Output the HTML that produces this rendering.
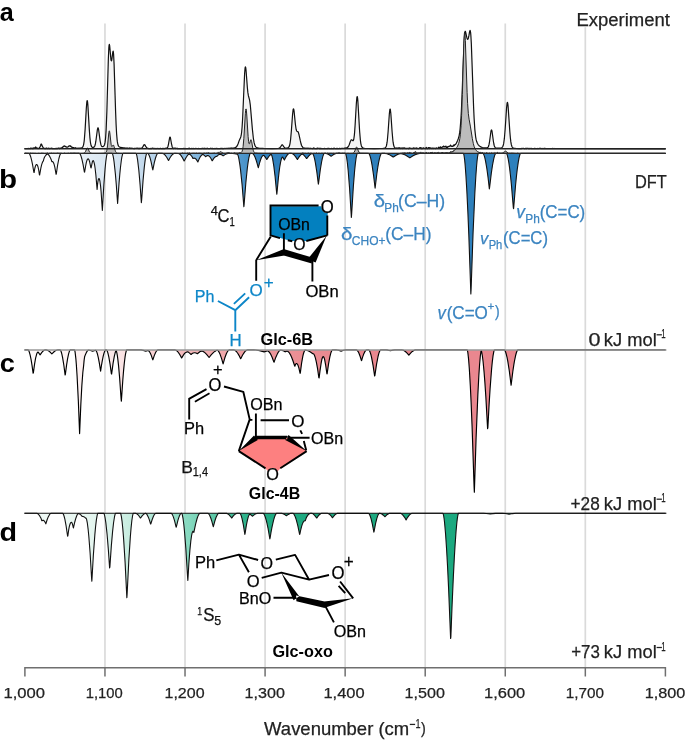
<!DOCTYPE html>
<html><head><meta charset="utf-8"><title>IR spectra</title>
<style>html,body{margin:0;padding:0;background:#fff;}body{width:685px;height:740px;overflow:hidden;font-family:"Liberation Sans",sans-serif;}svg{display:block;will-change:transform;}</style>
</head><body>
<svg width="685" height="740" viewBox="0 0 685 740" font-family='"Liberation Sans", sans-serif'><defs><linearGradient id="gb" gradientUnits="userSpaceOnUse" x1="0" y1="0" x2="685" y2="0"><stop offset="0.0350" stop-color="#fbfcfe"/><stop offset="0.0876" stop-color="#f2f7fb"/><stop offset="0.1460" stop-color="#dde9f3"/><stop offset="0.2058" stop-color="#c6dbed"/><stop offset="0.2701" stop-color="#8dbde0"/><stop offset="0.3212" stop-color="#6ea9d6"/><stop offset="0.3562" stop-color="#4c95cb"/><stop offset="0.3825" stop-color="#2f80bd"/><stop offset="1.0000" stop-color="#2d80bb"/></linearGradient><linearGradient id="gp" gradientUnits="userSpaceOnUse" x1="0" y1="0" x2="685" y2="0"><stop offset="0.0350" stop-color="#fefafa"/><stop offset="0.1168" stop-color="#fcf0f0"/><stop offset="0.1752" stop-color="#fae4e5"/><stop offset="0.2190" stop-color="#f7d3d4"/><stop offset="0.2628" stop-color="#f3bcbe"/><stop offset="0.3504" stop-color="#ee9fa2"/><stop offset="0.4380" stop-color="#eb8e94"/><stop offset="0.5109" stop-color="#e9878f"/><stop offset="1.0000" stop-color="#e9878f"/></linearGradient><linearGradient id="gg" gradientUnits="userSpaceOnUse" x1="0" y1="0" x2="685" y2="0"><stop offset="0.0350" stop-color="#f3fbf8"/><stop offset="0.1314" stop-color="#e6f6f0"/><stop offset="0.1606" stop-color="#d9f2ea"/><stop offset="0.1854" stop-color="#cbeee2"/><stop offset="0.2190" stop-color="#b2e6d6"/><stop offset="0.2569" stop-color="#94dec8"/><stop offset="0.2774" stop-color="#85d9bf"/><stop offset="0.3109" stop-color="#5ec9a8"/><stop offset="0.3577" stop-color="#2fb48c"/><stop offset="0.3942" stop-color="#1eaa81"/><stop offset="1.0000" stop-color="#17a77e"/></linearGradient></defs><line x1="104.96" y1="23.4" x2="104.96" y2="667.5" stroke="#dadada" stroke-width="1.7"/><line x1="185.02" y1="23.4" x2="185.02" y2="667.5" stroke="#dadada" stroke-width="1.7"/><line x1="265.08" y1="23.4" x2="265.08" y2="667.5" stroke="#dadada" stroke-width="1.7"/><line x1="345.14" y1="23.4" x2="345.14" y2="667.5" stroke="#dadada" stroke-width="1.7"/><line x1="425.20" y1="23.4" x2="425.20" y2="667.5" stroke="#dadada" stroke-width="1.7"/><line x1="505.26" y1="23.4" x2="505.26" y2="667.5" stroke="#dadada" stroke-width="1.7"/><line x1="585.32" y1="23.4" x2="585.32" y2="667.5" stroke="#dadada" stroke-width="1.7"/><path d="M24.60,148.80 L24.60,148.77 L25.60,148.73 L26.10,148.50 L26.60,148.74 L26.85,148.57 L27.10,148.73 L27.85,148.76 L28.10,148.37 L28.60,148.61 L29.10,148.54 L29.60,148.70 L29.85,148.48 L30.10,148.40 L30.35,148.44 L30.60,148.65 L31.10,147.93 L31.35,148.42 L31.60,148.42 L31.85,148.73 L32.10,148.73 L32.35,148.48 L32.60,148.73 L32.85,148.10 L33.10,148.28 L33.35,147.91 L33.60,148.58 L34.10,147.92 L34.35,147.91 L34.60,148.15 L34.85,147.80 L35.10,147.83 L35.60,146.95 L35.85,147.25 L36.10,147.84 L36.35,147.59 L36.85,148.12 L37.10,148.22 L37.35,148.16 L37.60,148.53 L38.10,148.62 L38.35,148.27 L38.85,148.32 L39.10,148.08 L39.35,148.04 L39.60,147.66 L39.85,146.96 L40.10,146.82 L40.60,145.48 L40.85,144.49 L41.10,143.98 L41.35,144.00 L41.60,144.22 L42.10,145.82 L42.60,146.86 L42.85,147.02 L43.35,147.96 L43.60,148.29 L43.85,148.39 L44.35,148.40 L44.60,148.63 L44.85,148.30 L45.10,148.62 L45.35,148.56 L45.60,148.37 L46.10,148.63 L46.35,148.21 L46.60,148.02 L47.60,148.61 L48.10,148.57 L48.35,148.42 L48.60,148.11 L48.85,148.17 L49.10,148.72 L49.35,148.39 L49.85,148.71 L50.10,148.59 L50.35,148.62 L50.60,148.42 L51.10,148.52 L51.35,148.07 L51.60,148.44 L52.10,148.64 L52.60,148.34 L52.85,148.65 L53.35,148.52 L53.60,148.68 L53.85,148.51 L54.85,148.59 L55.10,148.70 L56.35,148.34 L56.60,148.38 L56.85,148.58 L57.10,148.56 L57.35,148.40 L57.60,148.56 L58.10,148.15 L58.85,148.04 L59.35,148.21 L59.60,148.63 L60.10,148.40 L60.35,148.03 L61.35,148.12 L61.60,147.77 L61.85,147.81 L62.10,147.36 L62.35,147.45 L62.60,147.38 L62.85,147.10 L63.10,146.48 L63.35,146.70 L63.85,146.46 L64.10,145.81 L64.60,146.21 L64.85,146.08 L65.35,146.44 L65.60,146.76 L65.85,146.79 L66.60,147.11 L66.85,146.87 L67.10,147.11 L67.35,147.19 L67.60,147.00 L67.85,147.02 L68.10,146.82 L68.35,146.61 L68.60,146.14 L68.85,146.20 L69.10,146.08 L69.35,145.79 L69.85,146.02 L70.10,145.81 L70.35,146.03 L70.60,146.45 L70.85,146.15 L71.35,146.98 L71.60,147.00 L72.10,147.43 L72.60,147.61 L72.85,147.41 L73.10,147.66 L73.35,147.51 L73.85,147.96 L74.10,147.76 L74.35,148.06 L74.60,148.14 L74.85,147.88 L75.10,147.99 L75.35,147.75 L75.60,148.22 L75.85,148.28 L76.10,148.05 L76.35,148.30 L76.60,148.40 L76.85,148.08 L77.10,148.10 L77.60,148.40 L77.85,148.24 L78.10,148.30 L78.60,148.19 L79.10,148.27 L79.60,148.16 L80.60,148.14 L81.60,147.91 L82.35,147.48 L82.85,146.85 L83.10,146.33 L83.60,144.61 L84.10,141.56 L84.35,139.36 L85.10,129.64 L86.35,107.68 L86.85,101.83 L87.10,100.61 L87.35,100.74 L87.60,102.20 L87.85,104.84 L89.35,130.30 L89.85,137.07 L90.35,141.75 L90.60,143.37 L91.10,145.52 L91.35,146.18 L91.85,146.96 L92.35,147.32 L92.85,147.45 L93.60,147.36 L94.10,147.04 L94.60,146.33 L94.85,145.75 L95.35,143.97 L95.85,141.22 L97.35,129.87 L97.60,128.63 L97.85,127.92 L98.10,127.85 L98.35,128.40 L98.60,129.51 L100.10,140.62 L100.85,144.41 L101.35,145.76 L101.60,146.17 L102.10,146.59 L102.60,146.69 L103.10,146.58 L103.85,146.03 L104.35,145.19 L104.60,144.50 L105.10,142.16 L105.60,137.81 L106.10,130.38 L106.85,111.68 L108.35,58.84 L108.85,47.63 L109.10,44.99 L109.35,44.35 L109.60,45.40 L109.85,47.68 L110.85,58.82 L111.10,60.30 L111.35,60.89 L111.60,60.58 L111.85,59.42 L112.85,51.73 L113.10,51.17 L113.35,52.03 L113.60,54.56 L114.10,64.60 L115.60,111.82 L116.10,124.53 L116.60,133.70 L117.10,139.65 L117.35,141.66 L117.85,144.30 L118.10,145.12 L118.60,146.16 L119.35,146.92 L120.10,147.29 L120.85,147.28 L121.35,147.66 L122.10,147.72 L122.35,147.87 L122.60,147.87 L122.85,147.58 L123.10,147.87 L123.35,147.94 L124.10,147.70 L125.10,148.18 L125.60,148.11 L125.85,148.25 L126.35,148.12 L126.60,148.26 L127.10,148.09 L127.60,148.23 L127.85,148.05 L128.10,148.29 L128.60,148.40 L128.85,148.36 L129.10,148.05 L129.35,148.05 L129.60,147.81 L129.85,148.23 L130.35,148.27 L130.85,148.10 L131.10,148.25 L131.35,148.22 L131.60,148.37 L131.85,148.28 L132.10,148.50 L132.35,148.52 L132.60,148.36 L133.10,148.52 L133.60,148.54 L133.85,148.39 L134.10,148.53 L134.60,148.56 L134.85,148.23 L135.35,148.33 L135.60,148.49 L136.10,148.47 L136.35,148.28 L136.60,148.42 L137.10,148.01 L137.35,148.37 L137.60,148.35 L138.10,148.51 L138.35,148.34 L138.60,148.57 L139.10,148.22 L139.35,148.59 L139.60,148.59 L140.10,148.22 L140.60,148.42 L140.85,148.25 L141.10,148.40 L141.85,148.01 L142.35,147.55 L142.85,146.60 L143.10,146.36 L144.10,144.68 L144.85,144.82 L145.10,145.15 L145.60,146.20 L145.85,146.44 L146.60,147.72 L147.10,148.16 L148.35,148.54 L148.60,148.39 L148.85,148.59 L149.10,148.48 L149.85,148.64 L150.10,148.44 L150.35,148.58 L150.60,148.58 L150.85,148.45 L151.10,148.61 L151.35,148.64 L151.60,148.44 L151.85,148.60 L152.60,148.03 L152.85,148.49 L153.35,148.65 L153.60,148.35 L153.85,148.24 L154.35,148.34 L154.60,148.69 L155.10,148.68 L155.35,148.54 L155.60,148.57 L155.85,148.29 L156.60,148.69 L156.85,148.58 L157.35,148.68 L157.60,148.44 L158.10,148.40 L158.35,148.65 L158.85,148.65 L159.35,148.45 L159.85,148.66 L160.10,148.61 L160.35,148.38 L160.60,148.30 L161.10,148.65 L161.85,148.55 L162.35,148.68 L162.60,148.46 L162.85,148.43 L163.35,148.66 L163.85,148.33 L164.10,148.29 L164.35,148.62 L164.60,148.55 L164.85,148.60 L165.10,148.32 L165.35,148.49 L165.60,148.39 L165.85,148.06 L166.10,148.28 L166.35,148.17 L166.85,148.16 L167.10,148.01 L167.35,147.80 L167.85,146.73 L168.35,144.82 L169.60,137.89 L169.85,137.24 L170.10,137.04 L170.35,137.35 L171.35,143.01 L172.10,146.46 L172.35,147.24 L172.85,148.06 L173.35,148.27 L173.60,148.49 L173.85,148.17 L174.60,148.43 L175.10,148.00 L175.60,148.32 L175.85,148.61 L176.60,148.31 L176.85,148.47 L177.10,148.29 L177.35,148.54 L177.60,148.45 L177.85,148.67 L178.35,148.60 L178.60,148.70 L179.85,148.52 L180.10,148.70 L181.10,148.68 L181.35,148.50 L181.85,148.71 L182.10,148.58 L182.60,148.60 L182.85,148.51 L183.10,148.65 L183.35,148.59 L183.60,148.33 L184.10,148.66 L184.60,148.45 L184.85,148.72 L185.35,148.42 L185.60,148.63 L186.85,148.67 L187.10,148.58 L187.35,148.64 L187.85,148.57 L188.35,148.41 L188.60,148.71 L188.85,148.46 L189.10,148.62 L189.35,148.55 L189.60,148.14 L189.85,148.66 L190.35,148.51 L191.35,148.71 L191.85,148.30 L192.35,148.66 L192.85,148.70 L193.10,148.49 L193.60,148.37 L193.85,148.61 L194.10,148.66 L194.35,148.71 L194.60,148.57 L195.10,148.69 L195.35,148.64 L195.60,148.30 L195.85,148.24 L196.85,148.71 L197.10,148.50 L197.35,148.70 L197.85,148.67 L198.10,148.44 L198.35,148.63 L198.60,148.44 L198.85,148.61 L199.10,148.51 L199.35,148.68 L199.60,148.70 L199.85,148.54 L200.10,148.73 L200.60,148.71 L201.10,148.50 L201.35,148.55 L201.60,148.34 L201.85,148.61 L202.10,148.70 L202.35,148.69 L202.85,148.19 L203.10,148.23 L203.35,148.58 L203.60,148.60 L203.85,148.45 L204.10,148.71 L204.60,148.61 L204.85,148.15 L205.35,148.59 L205.60,148.68 L206.35,148.61 L206.60,148.72 L207.10,148.10 L207.35,148.37 L207.85,148.57 L208.35,148.54 L208.60,148.67 L209.60,148.54 L209.85,148.64 L210.60,148.20 L211.10,148.45 L211.35,148.41 L211.60,148.65 L212.10,148.57 L212.35,148.43 L212.60,148.54 L212.85,148.38 L213.10,148.61 L213.35,148.66 L213.85,148.51 L214.35,148.62 L214.60,148.47 L214.85,148.64 L215.10,148.53 L215.60,148.67 L216.10,148.38 L216.35,148.59 L216.60,148.37 L217.10,148.48 L217.35,148.64 L217.60,148.61 L217.85,148.45 L218.35,148.60 L219.35,148.49 L219.60,148.63 L220.35,148.64 L220.60,148.27 L221.10,148.28 L221.85,148.62 L222.10,148.42 L222.85,148.55 L223.10,148.44 L223.35,148.57 L223.60,148.57 L224.60,148.51 L224.85,148.32 L225.85,148.53 L226.35,148.34 L227.10,148.52 L227.35,148.42 L228.35,148.45 L228.85,148.15 L229.35,148.38 L229.60,148.24 L229.85,148.35 L230.10,148.08 L230.35,148.17 L230.60,148.01 L230.85,148.36 L231.35,148.33 L231.60,148.01 L231.85,147.90 L232.35,148.20 L232.60,148.25 L233.10,148.07 L233.35,148.18 L233.85,148.12 L234.10,148.02 L234.35,147.76 L234.85,147.85 L235.35,147.77 L235.60,147.56 L235.85,147.06 L236.10,147.10 L236.35,146.99 L236.60,146.70 L237.35,145.43 L238.10,143.77 L239.35,140.17 L240.35,138.06 L240.85,136.68 L241.35,134.27 L241.60,132.44 L242.10,127.04 L242.60,119.00 L244.60,73.79 L245.10,67.82 L245.35,66.80 L245.60,67.09 L245.85,68.56 L246.10,70.96 L247.35,87.50 L247.85,92.40 L248.35,95.47 L249.60,100.10 L250.35,105.43 L252.35,128.90 L253.35,138.26 L254.10,142.70 L254.85,145.29 L255.60,146.66 L256.10,147.16 L256.85,147.59 L257.85,147.87 L259.10,148.07 L263.60,148.39 L272.10,148.56 L278.35,148.46 L279.10,148.29 L279.85,147.81 L280.35,147.22 L281.60,145.22 L282.10,144.82 L282.35,144.82 L282.60,144.98 L284.10,147.17 L284.60,147.70 L285.10,148.01 L285.85,148.16 L287.10,148.08 L287.85,147.88 L288.60,147.39 L289.10,146.67 L289.60,145.33 L290.10,143.02 L290.60,139.37 L291.35,131.06 L292.60,114.07 L293.10,109.78 L293.35,108.87 L293.60,108.88 L293.85,109.77 L294.10,111.41 L295.35,124.01 L296.10,129.28 L296.60,130.84 L296.85,131.18 L297.85,131.63 L298.35,132.44 L299.10,135.03 L300.35,140.96 L301.10,144.06 L301.60,145.46 L302.10,146.44 L302.85,147.45 L303.35,147.89 L303.60,148.00 L304.35,148.06 L304.60,148.26 L304.85,148.27 L305.10,148.12 L305.60,148.28 L306.35,148.33 L306.60,148.46 L306.85,148.37 L307.10,148.11 L308.10,148.48 L308.35,148.49 L308.60,148.18 L309.10,148.53 L309.60,148.46 L309.85,148.30 L310.10,148.58 L310.35,148.42 L310.60,148.41 L310.85,148.22 L311.10,148.52 L312.35,148.62 L312.60,148.62 L312.85,148.46 L313.10,148.58 L313.60,147.99 L313.85,148.17 L314.10,148.12 L314.35,148.40 L314.85,148.61 L315.10,148.55 L316.10,148.64 L316.35,148.64 L316.60,148.46 L316.85,148.62 L317.10,148.23 L317.35,148.35 L317.60,148.03 L317.85,148.54 L318.10,148.43 L318.60,148.52 L318.85,148.38 L319.10,148.56 L319.35,148.35 L319.60,148.56 L320.10,148.22 L320.35,148.57 L320.60,148.67 L320.85,148.58 L321.10,148.66 L321.35,148.61 L321.60,148.42 L321.85,148.66 L322.10,148.59 L322.60,148.66 L322.85,148.56 L323.10,148.67 L323.35,148.51 L323.60,148.62 L324.10,148.45 L324.35,148.57 L324.85,148.43 L325.10,148.58 L326.35,148.69 L326.60,148.57 L327.35,148.61 L327.85,148.38 L328.35,148.64 L328.60,148.41 L329.10,148.37 L329.35,148.65 L329.60,148.48 L330.10,148.60 L330.35,148.52 L331.10,148.63 L331.85,148.39 L332.10,148.55 L332.35,148.50 L332.60,148.68 L333.35,148.37 L333.85,148.59 L334.10,148.50 L334.35,148.19 L335.10,148.63 L336.35,148.49 L336.60,148.54 L336.85,148.35 L337.10,148.34 L337.35,148.59 L337.60,148.64 L337.85,148.47 L338.10,148.62 L338.60,148.52 L338.85,148.64 L339.10,148.46 L339.35,148.59 L339.60,148.34 L339.85,148.26 L340.10,148.29 L340.35,148.60 L341.10,148.58 L341.35,148.44 L343.10,148.27 L343.35,148.46 L344.10,148.49 L344.35,148.14 L344.85,148.10 L345.35,148.30 L345.85,147.82 L346.35,148.22 L346.85,147.95 L347.10,147.53 L347.35,147.40 L347.85,147.37 L348.10,146.65 L348.60,146.02 L349.10,145.02 L350.35,141.53 L351.10,140.03 L351.35,139.82 L351.60,139.77 L351.85,139.87 L352.85,140.73 L353.10,140.72 L353.35,140.45 L353.60,139.83 L353.85,138.79 L354.35,135.12 L354.60,132.42 L355.10,125.32 L356.35,103.42 L356.85,97.75 L357.10,96.60 L357.35,96.75 L357.60,98.20 L357.85,100.81 L359.60,131.01 L360.35,140.01 L360.85,143.60 L361.35,145.72 L361.60,146.39 L362.10,147.24 L362.85,147.81 L363.60,148.06 L364.60,148.23 L368.10,148.48 L374.10,148.58 L380.10,148.52 L382.85,148.37 L384.35,148.16 L384.85,148.00 L385.35,147.70 L385.85,147.11 L386.35,145.94 L386.60,145.02 L387.10,142.22 L387.35,140.24 L388.10,131.71 L389.35,113.71 L389.85,109.56 L390.10,109.00 L390.35,109.56 L390.85,113.71 L392.10,131.71 L392.85,140.25 L393.10,142.23 L393.60,145.03 L394.10,146.63 L394.35,147.12 L394.85,147.72 L396.10,148.22 L396.35,148.20 L396.60,147.98 L397.10,148.26 L397.35,148.14 L397.60,148.29 L397.85,148.13 L398.10,148.41 L398.60,148.39 L398.85,147.59 L399.35,147.97 L399.60,148.38 L399.85,148.05 L400.10,148.02 L400.35,148.41 L400.60,148.54 L400.85,148.35 L401.10,147.82 L401.35,148.45 L401.60,148.47 L401.85,148.25 L402.35,148.55 L402.85,147.84 L403.10,147.85 L403.35,148.16 L403.60,148.23 L403.85,148.17 L404.10,147.92 L404.35,148.19 L404.60,148.17 L404.85,147.77 L405.35,148.52 L406.10,148.63 L406.35,148.26 L406.60,148.39 L407.10,148.33 L407.60,148.49 L407.85,148.40 L408.10,148.62 L408.60,148.32 L408.85,148.55 L409.35,147.99 L409.60,147.93 L410.10,148.50 L410.60,148.17 L410.85,148.48 L411.35,148.58 L411.60,148.34 L411.85,148.31 L412.10,148.50 L412.35,148.36 L412.85,148.58 L413.10,148.22 L413.35,148.23 L413.60,147.83 L414.35,148.13 L414.60,148.53 L414.85,148.40 L415.35,148.45 L415.60,148.18 L415.85,148.34 L416.10,148.20 L416.35,147.89 L416.60,147.98 L416.85,148.67 L417.10,148.48 L417.35,148.49 L417.60,148.26 L418.10,148.55 L418.60,148.59 L418.85,148.41 L419.35,148.38 L419.85,147.63 L420.10,148.16 L420.60,147.52 L420.85,147.65 L421.10,148.67 L421.60,148.25 L421.85,148.53 L422.10,148.52 L422.35,148.64 L422.60,148.20 L422.85,148.36 L423.10,147.95 L423.35,147.89 L423.60,147.94 L423.85,148.46 L424.10,148.39 L424.85,148.47 L425.10,148.39 L425.60,148.66 L425.85,148.00 L426.10,147.59 L426.35,147.42 L426.85,148.59 L427.10,148.63 L427.60,148.41 L427.85,148.60 L428.35,147.63 L428.60,148.06 L428.85,147.96 L429.10,147.54 L429.60,148.60 L429.85,148.07 L430.10,148.28 L430.60,147.91 L431.35,148.51 L431.60,148.54 L431.85,148.04 L432.10,147.96 L432.60,148.46 L432.85,148.32 L433.10,148.61 L433.35,148.17 L433.60,148.39 L433.85,148.22 L434.10,148.35 L434.35,148.33 L434.60,148.10 L434.85,148.44 L435.10,148.58 L435.35,148.57 L435.60,148.24 L435.85,148.22 L436.10,147.76 L436.35,147.78 L436.60,148.32 L436.85,148.33 L437.10,148.20 L437.35,148.29 L438.10,148.16 L438.85,147.08 L439.35,148.34 L439.60,148.09 L439.85,148.26 L440.10,147.56 L440.35,147.39 L440.60,146.89 L440.85,147.60 L441.60,147.52 L442.35,147.01 L442.60,147.13 L442.85,146.61 L443.10,146.53 L443.35,146.76 L443.60,146.08 L444.10,146.42 L444.35,146.81 L444.60,146.71 L444.85,146.74 L445.10,146.96 L445.85,146.08 L446.10,146.89 L446.35,147.33 L446.60,146.98 L446.85,147.35 L447.10,147.31 L447.35,147.00 L447.60,147.24 L447.85,146.74 L448.10,146.65 L448.60,146.76 L449.10,146.25 L449.35,146.43 L449.60,146.19 L449.85,146.24 L450.35,145.18 L450.60,145.09 L450.85,145.82 L451.10,146.10 L451.35,146.13 L451.60,146.47 L452.10,146.11 L452.35,146.40 L452.60,146.16 L452.85,146.42 L453.35,145.78 L453.60,144.98 L453.85,145.78 L454.10,145.64 L454.35,145.66 L454.60,144.71 L455.10,144.40 L455.35,144.57 L455.60,144.28 L455.85,143.74 L456.10,143.64 L456.35,143.18 L457.60,140.49 L458.35,138.48 L459.10,135.79 L459.60,132.92 L460.10,128.96 L460.85,119.91 L461.35,111.24 L462.10,93.99 L463.85,46.52 L464.35,37.33 L464.85,32.35 L465.10,31.40 L465.35,31.30 L465.60,31.87 L466.85,37.73 L467.35,39.06 L467.60,39.30 L467.85,39.24 L468.10,38.88 L468.35,38.19 L468.85,35.93 L469.60,31.72 L469.85,30.79 L470.10,30.48 L470.35,31.00 L470.60,32.56 L470.85,35.26 L471.35,44.13 L473.60,107.31 L474.10,118.10 L474.85,129.63 L475.60,136.55 L476.10,139.39 L476.60,141.34 L477.35,143.26 L478.10,144.52 L479.10,145.68 L480.35,146.64 L481.35,147.15 L482.35,147.50 L483.60,147.78 L485.10,147.94 L486.35,147.96 L487.10,147.85 L487.60,147.63 L488.10,147.12 L488.60,146.07 L489.10,144.19 L489.60,141.29 L490.85,131.98 L491.10,130.72 L491.35,130.02 L491.60,129.95 L491.85,130.54 L492.10,131.71 L493.35,141.00 L493.85,144.00 L494.35,146.00 L494.85,147.13 L495.35,147.70 L496.10,148.03 L497.10,148.14 L498.85,148.14 L500.35,148.03 L501.35,147.83 L502.10,147.43 L502.60,146.85 L503.10,145.78 L503.60,143.89 L504.35,138.70 L505.10,129.93 L506.60,107.48 L507.10,103.16 L507.35,102.42 L507.60,102.74 L507.85,104.09 L508.10,106.36 L509.85,132.01 L510.35,137.80 L510.85,141.94 L511.35,144.64 L511.85,146.26 L512.10,146.78 L512.60,147.44 L513.10,147.80 L513.60,148.00 L515.60,148.32 L519.10,148.53 L520.85,148.54 L521.35,148.47 L521.60,148.57 L521.85,148.52 L522.10,148.28 L522.85,148.51 L523.10,148.49 L523.60,148.26 L524.10,148.63 L525.10,148.63 L525.85,148.46 L526.10,148.27 L526.60,148.66 L526.85,148.33 L527.85,148.32 L528.10,148.37 L528.35,148.60 L528.85,148.46 L529.60,148.57 L529.85,148.47 L530.10,148.52 L530.35,148.32 L530.60,148.55 L531.10,148.56 L531.35,148.41 L531.85,148.66 L532.85,148.70 L533.60,148.68 L533.85,148.51 L534.10,148.62 L534.60,148.38 L534.85,148.46 L535.10,148.68 L535.35,148.58 L535.60,148.67 L535.85,148.46 L536.10,148.68 L536.60,148.72 L536.85,148.55 L537.10,148.58 L537.35,148.41 L537.60,148.69 L538.10,148.58 L538.35,148.73 L538.85,148.62 L539.10,148.30 L539.60,148.27 L540.10,148.70 L540.35,148.46 L540.85,148.37 L541.10,148.53 L541.60,148.55 L542.10,148.73 L542.35,148.71 L543.10,148.33 L543.35,148.64 L544.35,148.70 L544.85,148.21 L545.10,148.31 L545.35,148.73 L545.60,148.54 L546.60,148.73 L547.35,148.52 L547.85,148.70 L548.10,148.53 L548.35,148.71 L548.60,148.63 L548.85,148.75 L549.35,148.60 L550.10,148.68 L550.85,148.48 L551.35,148.61 L551.60,148.50 L551.85,148.55 L552.10,148.47 L552.35,148.73 L552.85,148.40 L553.10,148.48 L553.35,148.75 L554.35,148.47 L555.10,148.76 L555.35,148.67 L556.10,148.74 L556.60,148.58 L557.60,148.73 L557.85,148.61 L559.35,148.76 L665.60,148.79 L665.60,148.80 Z" fill="#f4f4f4" stroke="none"/><path d="M24.60,148.77 L25.60,148.73 L26.10,148.50 L26.60,148.74 L26.85,148.57 L27.10,148.73 L27.85,148.76 L28.10,148.37 L28.60,148.61 L29.10,148.54 L29.60,148.70 L29.85,148.48 L30.10,148.40 L30.35,148.44 L30.60,148.65 L31.10,147.93 L31.35,148.42 L31.60,148.42 L31.85,148.73 L32.10,148.73 L32.35,148.48 L32.60,148.73 L32.85,148.10 L33.10,148.28 L33.35,147.91 L33.60,148.58 L34.10,147.92 L34.35,147.91 L34.60,148.15 L34.85,147.80 L35.10,147.83 L35.60,146.95 L35.85,147.25 L36.10,147.84 L36.35,147.59 L36.85,148.12 L37.10,148.22 L37.35,148.16 L37.60,148.53 L38.10,148.62 L38.35,148.27 L38.85,148.32 L39.10,148.08 L39.35,148.04 L39.60,147.66 L39.85,146.96 L40.10,146.82 L40.60,145.48 L40.85,144.49 L41.10,143.98 L41.35,144.00 L41.60,144.22 L42.10,145.82 L42.60,146.86 L42.85,147.02 L43.35,147.96 L43.60,148.29 L43.85,148.39 L44.35,148.40 L44.60,148.63 L44.85,148.30 L45.10,148.62 L45.35,148.56 L45.60,148.37 L46.10,148.63 L46.35,148.21 L46.60,148.02 L47.60,148.61 L48.10,148.57 L48.35,148.42 L48.60,148.11 L48.85,148.17 L49.10,148.72 L49.35,148.39 L49.85,148.71 L50.10,148.59 L50.35,148.62 L50.60,148.42 L51.10,148.52 L51.35,148.07 L51.60,148.44 L52.10,148.64 L52.60,148.34 L52.85,148.65 L53.35,148.52 L53.60,148.68 L53.85,148.51 L54.85,148.59 L55.10,148.70 L56.35,148.34 L56.60,148.38 L56.85,148.58 L57.10,148.56 L57.35,148.40 L57.60,148.56 L58.10,148.15 L58.85,148.04 L59.35,148.21 L59.60,148.63 L60.10,148.40 L60.35,148.03 L61.35,148.12 L61.60,147.77 L61.85,147.81 L62.10,147.36 L62.35,147.45 L62.60,147.38 L62.85,147.10 L63.10,146.48 L63.35,146.70 L63.85,146.46 L64.10,145.81 L64.60,146.21 L64.85,146.08 L65.35,146.44 L65.60,146.76 L65.85,146.79 L66.60,147.11 L66.85,146.87 L67.10,147.11 L67.35,147.19 L67.60,147.00 L67.85,147.02 L68.10,146.82 L68.35,146.61 L68.60,146.14 L68.85,146.20 L69.10,146.08 L69.35,145.79 L69.85,146.02 L70.10,145.81 L70.35,146.03 L70.60,146.45 L70.85,146.15 L71.35,146.98 L71.60,147.00 L72.10,147.43 L72.60,147.61 L72.85,147.41 L73.10,147.66 L73.35,147.51 L73.85,147.96 L74.10,147.76 L74.35,148.06 L74.60,148.14 L74.85,147.88 L75.10,147.99 L75.35,147.75 L75.60,148.22 L75.85,148.28 L76.10,148.05 L76.35,148.30 L76.60,148.40 L76.85,148.08 L77.10,148.10 L77.60,148.40 L77.85,148.24 L78.10,148.30 L78.60,148.19 L79.10,148.27 L79.60,148.16 L80.60,148.14 L81.60,147.91 L82.35,147.48 L82.85,146.85 L83.10,146.33 L83.60,144.61 L84.10,141.56 L84.35,139.36 L85.10,129.64 L86.35,107.68 L86.85,101.83 L87.10,100.61 L87.35,100.74 L87.60,102.20 L87.85,104.84 L89.35,130.30 L89.85,137.07 L90.35,141.75 L90.60,143.37 L91.10,145.52 L91.35,146.18 L91.85,146.96 L92.35,147.32 L92.85,147.45 L93.60,147.36 L94.10,147.04 L94.60,146.33 L94.85,145.75 L95.35,143.97 L95.85,141.22 L97.35,129.87 L97.60,128.63 L97.85,127.92 L98.10,127.85 L98.35,128.40 L98.60,129.51 L100.10,140.62 L100.85,144.41 L101.35,145.76 L101.60,146.17 L102.10,146.59 L102.60,146.69 L103.10,146.58 L103.85,146.03 L104.35,145.19 L104.60,144.50 L105.10,142.16 L105.60,137.81 L106.10,130.38 L106.85,111.68 L108.35,58.84 L108.85,47.63 L109.10,44.99 L109.35,44.35 L109.60,45.40 L109.85,47.68 L110.85,58.82 L111.10,60.30 L111.35,60.89 L111.60,60.58 L111.85,59.42 L112.85,51.73 L113.10,51.17 L113.35,52.03 L113.60,54.56 L114.10,64.60 L115.60,111.82 L116.10,124.53 L116.60,133.70 L117.10,139.65 L117.35,141.66 L117.85,144.30 L118.10,145.12 L118.60,146.16 L119.35,146.92 L120.10,147.29 L120.85,147.28 L121.35,147.66 L122.10,147.72 L122.35,147.87 L122.60,147.87 L122.85,147.58 L123.10,147.87 L123.35,147.94 L124.10,147.70 L125.10,148.18 L125.60,148.11 L125.85,148.25 L126.35,148.12 L126.60,148.26 L127.10,148.09 L127.60,148.23 L127.85,148.05 L128.10,148.29 L128.60,148.40 L128.85,148.36 L129.10,148.05 L129.35,148.05 L129.60,147.81 L129.85,148.23 L130.35,148.27 L130.85,148.10 L131.10,148.25 L131.35,148.22 L131.60,148.37 L131.85,148.28 L132.10,148.50 L132.35,148.52 L132.60,148.36 L133.10,148.52 L133.60,148.54 L133.85,148.39 L134.10,148.53 L134.60,148.56 L134.85,148.23 L135.35,148.33 L135.60,148.49 L136.10,148.47 L136.35,148.28 L136.60,148.42 L137.10,148.01 L137.35,148.37 L137.60,148.35 L138.10,148.51 L138.35,148.34 L138.60,148.57 L139.10,148.22 L139.35,148.59 L139.60,148.59 L140.10,148.22 L140.60,148.42 L140.85,148.25 L141.10,148.40 L141.85,148.01 L142.35,147.55 L142.85,146.60 L143.10,146.36 L144.10,144.68 L144.85,144.82 L145.10,145.15 L145.60,146.20 L145.85,146.44 L146.60,147.72 L147.10,148.16 L148.35,148.54 L148.60,148.39 L148.85,148.59 L149.10,148.48 L149.85,148.64 L150.10,148.44 L150.35,148.58 L150.60,148.58 L150.85,148.45 L151.10,148.61 L151.35,148.64 L151.60,148.44 L151.85,148.60 L152.60,148.03 L152.85,148.49 L153.35,148.65 L153.60,148.35 L153.85,148.24 L154.35,148.34 L154.60,148.69 L155.10,148.68 L155.35,148.54 L155.60,148.57 L155.85,148.29 L156.60,148.69 L156.85,148.58 L157.35,148.68 L157.60,148.44 L158.10,148.40 L158.35,148.65 L158.85,148.65 L159.35,148.45 L159.85,148.66 L160.10,148.61 L160.35,148.38 L160.60,148.30 L161.10,148.65 L161.85,148.55 L162.35,148.68 L162.60,148.46 L162.85,148.43 L163.35,148.66 L163.85,148.33 L164.10,148.29 L164.35,148.62 L164.60,148.55 L164.85,148.60 L165.10,148.32 L165.35,148.49 L165.60,148.39 L165.85,148.06 L166.10,148.28 L166.35,148.17 L166.85,148.16 L167.10,148.01 L167.35,147.80 L167.85,146.73 L168.35,144.82 L169.60,137.89 L169.85,137.24 L170.10,137.04 L170.35,137.35 L171.35,143.01 L172.10,146.46 L172.35,147.24 L172.85,148.06 L173.35,148.27 L173.60,148.49 L173.85,148.17 L174.60,148.43 L175.10,148.00 L175.60,148.32 L175.85,148.61 L176.60,148.31 L176.85,148.47 L177.10,148.29 L177.35,148.54 L177.60,148.45 L177.85,148.67 L178.35,148.60 L178.60,148.70 L179.85,148.52 L180.10,148.70 L181.10,148.68 L181.35,148.50 L181.85,148.71 L182.10,148.58 L182.60,148.60 L182.85,148.51 L183.10,148.65 L183.35,148.59 L183.60,148.33 L184.10,148.66 L184.60,148.45 L184.85,148.72 L185.35,148.42 L185.60,148.63 L186.85,148.67 L187.10,148.58 L187.35,148.64 L187.85,148.57 L188.35,148.41 L188.60,148.71 L188.85,148.46 L189.10,148.62 L189.35,148.55 L189.60,148.14 L189.85,148.66 L190.35,148.51 L191.35,148.71 L191.85,148.30 L192.35,148.66 L192.85,148.70 L193.10,148.49 L193.60,148.37 L193.85,148.61 L194.10,148.66 L194.35,148.71 L194.60,148.57 L195.10,148.69 L195.35,148.64 L195.60,148.30 L195.85,148.24 L196.85,148.71 L197.10,148.50 L197.35,148.70 L197.85,148.67 L198.10,148.44 L198.35,148.63 L198.60,148.44 L198.85,148.61 L199.10,148.51 L199.35,148.68 L199.60,148.70 L199.85,148.54 L200.10,148.73 L200.60,148.71 L201.10,148.50 L201.35,148.55 L201.60,148.34 L201.85,148.61 L202.10,148.70 L202.35,148.69 L202.85,148.19 L203.10,148.23 L203.35,148.58 L203.60,148.60 L203.85,148.45 L204.10,148.71 L204.60,148.61 L204.85,148.15 L205.35,148.59 L205.60,148.68 L206.35,148.61 L206.60,148.72 L207.10,148.10 L207.35,148.37 L207.85,148.57 L208.35,148.54 L208.60,148.67 L209.60,148.54 L209.85,148.64 L210.60,148.20 L211.10,148.45 L211.35,148.41 L211.60,148.65 L212.10,148.57 L212.35,148.43 L212.60,148.54 L212.85,148.38 L213.10,148.61 L213.35,148.66 L213.85,148.51 L214.35,148.62 L214.60,148.47 L214.85,148.64 L215.10,148.53 L215.60,148.67 L216.10,148.38 L216.35,148.59 L216.60,148.37 L217.10,148.48 L217.35,148.64 L217.60,148.61 L217.85,148.45 L218.35,148.60 L219.35,148.49 L219.60,148.63 L220.35,148.64 L220.60,148.27 L221.10,148.28 L221.85,148.62 L222.10,148.42 L222.85,148.55 L223.10,148.44 L223.35,148.57 L223.60,148.57 L224.60,148.51 L224.85,148.32 L225.85,148.53 L226.35,148.34 L227.10,148.52 L227.35,148.42 L228.35,148.45 L228.85,148.15 L229.35,148.38 L229.60,148.24 L229.85,148.35 L230.10,148.08 L230.35,148.17 L230.60,148.01 L230.85,148.36 L231.35,148.33 L231.60,148.01 L231.85,147.90 L232.35,148.20 L232.60,148.25 L233.10,148.07 L233.35,148.18 L233.85,148.12 L234.10,148.02 L234.35,147.76 L234.85,147.85 L235.35,147.77 L235.60,147.56 L235.85,147.06 L236.10,147.10 L236.35,146.99 L236.60,146.70 L237.35,145.43 L238.10,143.77 L239.35,140.17 L240.35,138.06 L240.85,136.68 L241.35,134.27 L241.60,132.44 L242.10,127.04 L242.60,119.00 L244.60,73.79 L245.10,67.82 L245.35,66.80 L245.60,67.09 L245.85,68.56 L246.10,70.96 L247.35,87.50 L247.85,92.40 L248.35,95.47 L249.60,100.10 L250.35,105.43 L252.35,128.90 L253.35,138.26 L254.10,142.70 L254.85,145.29 L255.60,146.66 L256.10,147.16 L256.85,147.59 L257.85,147.87 L259.10,148.07 L263.60,148.39 L272.10,148.56 L278.35,148.46 L279.10,148.29 L279.85,147.81 L280.35,147.22 L281.60,145.22 L282.10,144.82 L282.35,144.82 L282.60,144.98 L284.10,147.17 L284.60,147.70 L285.10,148.01 L285.85,148.16 L287.10,148.08 L287.85,147.88 L288.60,147.39 L289.10,146.67 L289.60,145.33 L290.10,143.02 L290.60,139.37 L291.35,131.06 L292.60,114.07 L293.10,109.78 L293.35,108.87 L293.60,108.88 L293.85,109.77 L294.10,111.41 L295.35,124.01 L296.10,129.28 L296.60,130.84 L296.85,131.18 L297.85,131.63 L298.35,132.44 L299.10,135.03 L300.35,140.96 L301.10,144.06 L301.60,145.46 L302.10,146.44 L302.85,147.45 L303.35,147.89 L303.60,148.00 L304.35,148.06 L304.60,148.26 L304.85,148.27 L305.10,148.12 L305.60,148.28 L306.35,148.33 L306.60,148.46 L306.85,148.37 L307.10,148.11 L308.10,148.48 L308.35,148.49 L308.60,148.18 L309.10,148.53 L309.60,148.46 L309.85,148.30 L310.10,148.58 L310.35,148.42 L310.60,148.41 L310.85,148.22 L311.10,148.52 L312.35,148.62 L312.60,148.62 L312.85,148.46 L313.10,148.58 L313.60,147.99 L313.85,148.17 L314.10,148.12 L314.35,148.40 L314.85,148.61 L315.10,148.55 L316.10,148.64 L316.35,148.64 L316.60,148.46 L316.85,148.62 L317.10,148.23 L317.35,148.35 L317.60,148.03 L317.85,148.54 L318.10,148.43 L318.60,148.52 L318.85,148.38 L319.10,148.56 L319.35,148.35 L319.60,148.56 L320.10,148.22 L320.35,148.57 L320.60,148.67 L320.85,148.58 L321.10,148.66 L321.35,148.61 L321.60,148.42 L321.85,148.66 L322.10,148.59 L322.60,148.66 L322.85,148.56 L323.10,148.67 L323.35,148.51 L323.60,148.62 L324.10,148.45 L324.35,148.57 L324.85,148.43 L325.10,148.58 L326.35,148.69 L326.60,148.57 L327.35,148.61 L327.85,148.38 L328.35,148.64 L328.60,148.41 L329.10,148.37 L329.35,148.65 L329.60,148.48 L330.10,148.60 L330.35,148.52 L331.10,148.63 L331.85,148.39 L332.10,148.55 L332.35,148.50 L332.60,148.68 L333.35,148.37 L333.85,148.59 L334.10,148.50 L334.35,148.19 L335.10,148.63 L336.35,148.49 L336.60,148.54 L336.85,148.35 L337.10,148.34 L337.35,148.59 L337.60,148.64 L337.85,148.47 L338.10,148.62 L338.60,148.52 L338.85,148.64 L339.10,148.46 L339.35,148.59 L339.60,148.34 L339.85,148.26 L340.10,148.29 L340.35,148.60 L341.10,148.58 L341.35,148.44 L343.10,148.27 L343.35,148.46 L344.10,148.49 L344.35,148.14 L344.85,148.10 L345.35,148.30 L345.85,147.82 L346.35,148.22 L346.85,147.95 L347.10,147.53 L347.35,147.40 L347.85,147.37 L348.10,146.65 L348.60,146.02 L349.10,145.02 L350.35,141.53 L351.10,140.03 L351.35,139.82 L351.60,139.77 L351.85,139.87 L352.85,140.73 L353.10,140.72 L353.35,140.45 L353.60,139.83 L353.85,138.79 L354.35,135.12 L354.60,132.42 L355.10,125.32 L356.35,103.42 L356.85,97.75 L357.10,96.60 L357.35,96.75 L357.60,98.20 L357.85,100.81 L359.60,131.01 L360.35,140.01 L360.85,143.60 L361.35,145.72 L361.60,146.39 L362.10,147.24 L362.85,147.81 L363.60,148.06 L364.60,148.23 L368.10,148.48 L374.10,148.58 L380.10,148.52 L382.85,148.37 L384.35,148.16 L384.85,148.00 L385.35,147.70 L385.85,147.11 L386.35,145.94 L386.60,145.02 L387.10,142.22 L387.35,140.24 L388.10,131.71 L389.35,113.71 L389.85,109.56 L390.10,109.00 L390.35,109.56 L390.85,113.71 L392.10,131.71 L392.85,140.25 L393.10,142.23 L393.60,145.03 L394.10,146.63 L394.35,147.12 L394.85,147.72 L396.10,148.22 L396.35,148.20 L396.60,147.98 L397.10,148.26 L397.35,148.14 L397.60,148.29 L397.85,148.13 L398.10,148.41 L398.60,148.39 L398.85,147.59 L399.35,147.97 L399.60,148.38 L399.85,148.05 L400.10,148.02 L400.35,148.41 L400.60,148.54 L400.85,148.35 L401.10,147.82 L401.35,148.45 L401.60,148.47 L401.85,148.25 L402.35,148.55 L402.85,147.84 L403.10,147.85 L403.35,148.16 L403.60,148.23 L403.85,148.17 L404.10,147.92 L404.35,148.19 L404.60,148.17 L404.85,147.77 L405.35,148.52 L406.10,148.63 L406.35,148.26 L406.60,148.39 L407.10,148.33 L407.60,148.49 L407.85,148.40 L408.10,148.62 L408.60,148.32 L408.85,148.55 L409.35,147.99 L409.60,147.93 L410.10,148.50 L410.60,148.17 L410.85,148.48 L411.35,148.58 L411.60,148.34 L411.85,148.31 L412.10,148.50 L412.35,148.36 L412.85,148.58 L413.10,148.22 L413.35,148.23 L413.60,147.83 L414.35,148.13 L414.60,148.53 L414.85,148.40 L415.35,148.45 L415.60,148.18 L415.85,148.34 L416.10,148.20 L416.35,147.89 L416.60,147.98 L416.85,148.67 L417.10,148.48 L417.35,148.49 L417.60,148.26 L418.10,148.55 L418.60,148.59 L418.85,148.41 L419.35,148.38 L419.85,147.63 L420.10,148.16 L420.60,147.52 L420.85,147.65 L421.10,148.67 L421.60,148.25 L421.85,148.53 L422.10,148.52 L422.35,148.64 L422.60,148.20 L422.85,148.36 L423.10,147.95 L423.35,147.89 L423.60,147.94 L423.85,148.46 L424.10,148.39 L424.85,148.47 L425.10,148.39 L425.60,148.66 L425.85,148.00 L426.10,147.59 L426.35,147.42 L426.85,148.59 L427.10,148.63 L427.60,148.41 L427.85,148.60 L428.35,147.63 L428.60,148.06 L428.85,147.96 L429.10,147.54 L429.60,148.60 L429.85,148.07 L430.10,148.28 L430.60,147.91 L431.35,148.51 L431.60,148.54 L431.85,148.04 L432.10,147.96 L432.60,148.46 L432.85,148.32 L433.10,148.61 L433.35,148.17 L433.60,148.39 L433.85,148.22 L434.10,148.35 L434.35,148.33 L434.60,148.10 L434.85,148.44 L435.10,148.58 L435.35,148.57 L435.60,148.24 L435.85,148.22 L436.10,147.76 L436.35,147.78 L436.60,148.32 L436.85,148.33 L437.10,148.20 L437.35,148.29 L438.10,148.16 L438.85,147.08 L439.35,148.34 L439.60,148.09 L439.85,148.26 L440.10,147.56 L440.35,147.39 L440.60,146.89 L440.85,147.60 L441.60,147.52 L442.35,147.01 L442.60,147.13 L442.85,146.61 L443.10,146.53 L443.35,146.76 L443.60,146.08 L444.10,146.42 L444.35,146.81 L444.60,146.71 L444.85,146.74 L445.10,146.96 L445.85,146.08 L446.10,146.89 L446.35,147.33 L446.60,146.98 L446.85,147.35 L447.10,147.31 L447.35,147.00 L447.60,147.24 L447.85,146.74 L448.10,146.65 L448.60,146.76 L449.10,146.25 L449.35,146.43 L449.60,146.19 L449.85,146.24 L450.35,145.18 L450.60,145.09 L450.85,145.82 L451.10,146.10 L451.35,146.13 L451.60,146.47 L452.10,146.11 L452.35,146.40 L452.60,146.16 L452.85,146.42 L453.35,145.78 L453.60,144.98 L453.85,145.78 L454.10,145.64 L454.35,145.66 L454.60,144.71 L455.10,144.40 L455.35,144.57 L455.60,144.28 L455.85,143.74 L456.10,143.64 L456.35,143.18 L457.60,140.49 L458.35,138.48 L459.10,135.79 L459.60,132.92 L460.10,128.96 L460.85,119.91 L461.35,111.24 L462.10,93.99 L463.85,46.52 L464.35,37.33 L464.85,32.35 L465.10,31.40 L465.35,31.30 L465.60,31.87 L466.85,37.73 L467.35,39.06 L467.60,39.30 L467.85,39.24 L468.10,38.88 L468.35,38.19 L468.85,35.93 L469.60,31.72 L469.85,30.79 L470.10,30.48 L470.35,31.00 L470.60,32.56 L470.85,35.26 L471.35,44.13 L473.60,107.31 L474.10,118.10 L474.85,129.63 L475.60,136.55 L476.10,139.39 L476.60,141.34 L477.35,143.26 L478.10,144.52 L479.10,145.68 L480.35,146.64 L481.35,147.15 L482.35,147.50 L483.60,147.78 L485.10,147.94 L486.35,147.96 L487.10,147.85 L487.60,147.63 L488.10,147.12 L488.60,146.07 L489.10,144.19 L489.60,141.29 L490.85,131.98 L491.10,130.72 L491.35,130.02 L491.60,129.95 L491.85,130.54 L492.10,131.71 L493.35,141.00 L493.85,144.00 L494.35,146.00 L494.85,147.13 L495.35,147.70 L496.10,148.03 L497.10,148.14 L498.85,148.14 L500.35,148.03 L501.35,147.83 L502.10,147.43 L502.60,146.85 L503.10,145.78 L503.60,143.89 L504.35,138.70 L505.10,129.93 L506.60,107.48 L507.10,103.16 L507.35,102.42 L507.60,102.74 L507.85,104.09 L508.10,106.36 L509.85,132.01 L510.35,137.80 L510.85,141.94 L511.35,144.64 L511.85,146.26 L512.10,146.78 L512.60,147.44 L513.10,147.80 L513.60,148.00 L515.60,148.32 L519.10,148.53 L520.85,148.54 L521.35,148.47 L521.60,148.57 L521.85,148.52 L522.10,148.28 L522.85,148.51 L523.10,148.49 L523.60,148.26 L524.10,148.63 L525.10,148.63 L525.85,148.46 L526.10,148.27 L526.60,148.66 L526.85,148.33 L527.85,148.32 L528.10,148.37 L528.35,148.60 L528.85,148.46 L529.60,148.57 L529.85,148.47 L530.10,148.52 L530.35,148.32 L530.60,148.55 L531.10,148.56 L531.35,148.41 L531.85,148.66 L532.85,148.70 L533.60,148.68 L533.85,148.51 L534.10,148.62 L534.60,148.38 L534.85,148.46 L535.10,148.68 L535.35,148.58 L535.60,148.67 L535.85,148.46 L536.10,148.68 L536.60,148.72 L536.85,148.55 L537.10,148.58 L537.35,148.41 L537.60,148.69 L538.10,148.58 L538.35,148.73 L538.85,148.62 L539.10,148.30 L539.60,148.27 L540.10,148.70 L540.35,148.46 L540.85,148.37 L541.10,148.53 L541.60,148.55 L542.10,148.73 L542.35,148.71 L543.10,148.33 L543.35,148.64 L544.35,148.70 L544.85,148.21 L545.10,148.31 L545.35,148.73 L545.60,148.54 L546.60,148.73 L547.35,148.52 L547.85,148.70 L548.10,148.53 L548.35,148.71 L548.60,148.63 L548.85,148.75 L549.35,148.60 L550.10,148.68 L550.85,148.48 L551.35,148.61 L551.60,148.50 L551.85,148.55 L552.10,148.47 L552.35,148.73 L552.85,148.40 L553.10,148.48 L553.35,148.75 L554.35,148.47 L555.10,148.76 L555.35,148.67 L556.10,148.74 L556.60,148.58 L557.60,148.73 L557.85,148.61 L559.35,148.76 L665.60,148.79" fill="none" stroke="#111" stroke-width="1.2" stroke-linejoin="round"/><path d="M24.60,153.40 L24.60,153.40 L25.85,153.16 L26.60,153.37 L26.85,153.22 L27.10,153.37 L27.35,153.40 L27.85,153.24 L28.60,153.38 L29.10,153.28 L29.35,153.36 L29.60,153.09 L30.10,153.38 L30.60,152.74 L31.35,153.31 L31.60,152.89 L31.85,153.37 L32.10,153.39 L32.35,152.92 L32.85,153.38 L33.35,153.16 L33.85,153.29 L34.35,153.22 L34.60,153.34 L34.85,153.12 L35.10,153.30 L35.60,153.19 L35.85,153.32 L36.35,153.38 L36.60,153.28 L36.85,153.38 L37.10,153.31 L37.35,153.38 L37.60,153.26 L37.85,153.39 L38.10,153.29 L38.35,152.99 L38.60,153.08 L38.85,152.95 L39.10,153.01 L39.60,153.37 L39.85,153.15 L40.35,153.37 L40.60,153.15 L40.85,153.37 L41.10,153.11 L41.35,153.37 L41.60,152.92 L41.85,152.70 L42.10,153.18 L42.60,153.30 L42.85,152.88 L43.10,153.18 L43.35,153.13 L43.60,153.35 L43.85,153.23 L44.10,153.38 L44.35,153.22 L44.60,153.38 L45.10,153.28 L45.35,153.38 L45.60,153.18 L46.10,153.06 L46.35,153.35 L46.60,153.01 L47.10,153.16 L47.85,152.78 L48.35,153.25 L48.60,153.34 L49.10,153.00 L49.85,153.33 L50.35,153.37 L50.60,153.34 L50.85,152.86 L51.10,152.67 L51.35,153.18 L51.85,153.09 L52.10,153.29 L52.35,153.30 L52.60,153.14 L53.10,153.20 L53.60,152.93 L53.85,153.20 L54.10,153.28 L54.35,152.91 L54.85,153.31 L55.10,152.90 L55.60,153.33 L55.85,153.10 L56.10,153.11 L56.35,153.38 L56.60,152.93 L57.10,153.12 L57.35,153.04 L57.60,153.21 L57.85,153.17 L58.10,152.70 L58.60,153.39 L59.60,153.18 L59.85,152.88 L60.10,153.01 L60.35,152.98 L60.60,153.23 L60.85,152.89 L61.85,153.31 L62.10,153.04 L62.35,153.32 L62.85,153.21 L63.35,153.37 L63.60,153.20 L63.85,153.35 L64.35,152.79 L64.85,153.27 L65.35,153.24 L65.60,153.39 L66.35,153.23 L66.60,153.39 L67.10,153.04 L67.35,153.35 L67.60,153.08 L67.85,153.31 L68.10,153.33 L68.35,153.12 L68.85,153.15 L69.10,153.07 L69.35,153.32 L69.60,153.32 L69.85,153.27 L70.10,152.93 L70.35,153.10 L70.60,152.93 L70.85,153.17 L71.10,153.21 L71.35,152.98 L71.85,153.38 L72.10,153.20 L72.35,153.29 L72.60,153.12 L73.10,153.23 L73.60,153.05 L74.10,153.21 L74.35,153.16 L74.60,152.95 L74.85,152.93 L75.35,153.26 L75.60,152.95 L76.10,153.09 L76.35,153.32 L76.60,153.28 L76.85,152.95 L77.60,153.33 L77.85,153.21 L78.10,153.31 L78.35,153.16 L78.60,153.30 L78.85,153.15 L79.10,153.31 L80.10,153.36 L83.10,153.28 L84.10,153.08 L84.85,152.54 L85.60,151.33 L86.85,148.41 L87.10,148.06 L87.35,147.90 L87.60,147.97 L88.10,148.70 L89.10,151.11 L89.60,152.07 L90.10,152.69 L90.85,153.12 L92.60,153.30 L98.85,153.31 L103.10,153.20 L105.10,152.98 L105.60,152.78 L106.10,152.29 L106.60,151.18 L106.85,150.23 L107.60,145.11 L108.85,132.49 L109.10,131.17 L109.35,130.81 L109.60,131.47 L109.85,133.01 L111.10,144.17 L111.35,145.48 L111.60,146.25 L111.85,146.55 L112.10,146.46 L112.85,145.27 L113.10,145.02 L113.35,145.02 L113.60,145.31 L114.10,146.64 L115.10,150.23 L115.60,151.55 L115.85,152.03 L116.35,152.65 L116.85,152.96 L117.35,153.11 L120.10,153.29 L126.85,153.36 L179.85,153.39 L181.35,153.27 L181.60,153.33 L182.35,152.74 L182.60,153.09 L183.10,153.32 L183.35,153.02 L183.85,153.20 L184.35,153.21 L184.60,153.11 L185.60,153.24 L185.85,153.10 L186.35,153.20 L186.60,152.98 L186.85,153.22 L187.35,152.96 L188.10,153.19 L188.35,153.39 L188.85,152.68 L189.85,153.00 L190.10,153.38 L190.35,153.10 L190.60,153.26 L190.85,153.20 L192.35,153.39 L192.85,152.71 L193.35,152.95 L193.60,153.36 L193.85,153.23 L194.35,153.35 L195.10,152.69 L195.60,153.38 L195.85,153.25 L196.10,153.27 L196.35,152.93 L196.85,152.85 L197.35,153.30 L197.60,153.20 L198.10,153.20 L198.35,153.08 L198.60,153.18 L199.60,152.93 L199.85,153.38 L200.10,153.36 L200.60,153.12 L201.10,153.29 L201.85,153.16 L202.60,153.36 L202.85,153.01 L203.35,153.32 L203.60,152.91 L204.10,152.86 L204.35,152.95 L204.60,152.84 L205.10,153.35 L205.35,153.15 L205.60,153.13 L205.85,153.36 L206.10,153.10 L206.85,152.83 L207.10,152.60 L207.35,152.76 L207.60,153.22 L207.85,153.16 L208.10,153.35 L208.35,153.21 L208.60,152.53 L208.85,152.90 L209.10,152.96 L209.35,153.25 L209.60,153.03 L209.85,153.26 L210.35,153.34 L210.85,153.12 L211.35,153.17 L211.60,153.30 L212.10,153.11 L212.60,153.22 L212.85,153.12 L213.10,153.20 L213.35,152.96 L213.85,153.29 L214.10,152.94 L214.35,152.83 L214.85,153.29 L215.35,153.34 L216.10,152.85 L216.35,153.07 L216.85,153.25 L217.10,153.00 L217.60,153.03 L217.85,152.46 L218.10,152.64 L218.35,152.58 L218.60,152.11 L218.85,152.13 L219.10,152.46 L219.35,152.15 L219.60,152.23 L219.85,151.93 L220.85,151.72 L221.10,151.83 L221.35,152.13 L221.60,152.09 L222.10,152.20 L222.60,152.93 L222.85,152.82 L223.60,153.22 L223.85,152.92 L224.60,153.28 L225.10,153.07 L225.35,153.16 L225.60,153.02 L225.85,153.31 L226.10,153.29 L226.35,152.89 L226.60,153.16 L226.85,152.89 L227.10,152.40 L227.35,152.95 L227.60,153.08 L227.85,153.08 L228.10,152.80 L228.60,152.65 L228.85,153.16 L229.10,153.25 L229.35,152.77 L229.60,152.85 L229.85,152.76 L230.10,153.08 L230.35,153.08 L230.60,153.23 L230.85,152.96 L232.10,153.23 L232.60,153.16 L232.85,152.89 L233.85,153.19 L234.35,152.88 L234.60,152.58 L234.85,152.78 L235.10,152.74 L235.35,153.15 L235.85,153.06 L236.10,153.18 L236.35,153.15 L236.85,152.81 L237.60,153.09 L237.85,152.90 L238.10,153.06 L238.85,152.88 L239.10,152.72 L240.10,152.84 L240.85,152.64 L241.35,152.35 L241.85,151.78 L242.10,151.30 L242.60,149.64 L243.10,146.60 L243.85,138.29 L245.35,113.33 L245.60,110.60 L245.85,109.07 L246.10,108.91 L246.35,110.13 L246.85,116.03 L248.10,136.41 L248.60,141.53 L248.85,142.99 L249.10,143.74 L249.35,143.85 L249.60,143.46 L250.60,140.10 L250.85,139.72 L251.10,139.79 L251.35,140.34 L251.60,141.32 L252.85,148.42 L253.35,150.50 L253.60,151.23 L254.10,152.18 L254.60,152.66 L255.35,152.95 L258.10,153.19 L264.10,153.31 L299.85,153.39 L301.60,153.27 L301.85,153.20 L302.10,152.79 L302.60,152.94 L302.85,153.16 L303.35,152.99 L303.60,153.21 L303.85,153.20 L304.10,153.33 L304.60,153.21 L304.85,152.93 L305.10,152.97 L305.60,153.35 L305.85,153.17 L306.60,153.39 L307.10,153.31 L307.60,153.00 L307.85,153.33 L308.35,153.09 L308.85,153.06 L309.35,153.35 L309.60,153.25 L309.85,153.38 L310.10,153.38 L310.60,153.04 L310.85,153.13 L311.35,153.03 L311.60,153.06 L311.85,153.30 L312.35,153.38 L313.35,153.23 L313.60,153.36 L314.35,153.33 L314.85,153.09 L315.35,153.36 L315.85,153.22 L316.10,153.32 L316.60,152.84 L316.85,152.81 L317.10,153.25 L317.35,153.36 L317.60,153.36 L318.10,153.10 L318.35,153.12 L318.85,153.36 L319.10,153.17 L319.60,153.25 L319.85,153.39 L320.60,153.36 L320.85,153.29 L321.10,153.01 L321.35,152.90 L321.60,152.96 L321.85,153.35 L322.60,153.17 L322.85,153.34 L323.35,153.36 L323.85,153.08 L324.35,153.26 L325.10,153.36 L325.85,153.08 L326.10,153.29 L326.85,153.36 L327.10,153.11 L327.60,153.02 L328.10,153.12 L328.35,153.29 L329.10,153.11 L329.35,153.24 L330.35,153.28 L330.85,153.10 L331.10,153.11 L331.35,153.27 L331.60,153.16 L332.35,153.37 L332.60,153.24 L333.35,153.31 L333.85,152.99 L334.35,153.31 L334.60,153.28 L334.85,153.08 L335.10,153.07 L335.35,153.30 L335.85,153.20 L336.10,153.33 L336.60,153.02 L337.10,153.38 L337.60,153.18 L337.85,153.30 L338.10,152.97 L338.35,152.84 L338.85,153.04 L339.35,152.80 L339.60,152.86 L339.85,153.17 L340.35,153.33 L341.10,153.25 L341.35,153.34 L341.60,153.31 L341.85,153.13 L342.10,153.38 L342.35,153.31 L342.60,153.01 L343.10,153.26 L343.35,153.21 L343.85,153.33 L344.10,153.23 L344.35,153.34 L344.60,153.14 L345.60,153.35 L345.85,153.31 L346.10,153.06 L346.35,153.16 L346.60,153.05 L346.85,153.36 L347.35,153.17 L347.60,153.31 L347.85,153.14 L348.10,153.09 L348.35,153.32 L348.85,153.11 L349.10,153.27 L349.60,153.34 L352.10,153.29 L352.85,153.19 L353.35,153.01 L354.10,152.35 L354.85,150.87 L356.10,147.50 L356.35,147.13 L356.60,147.00 L356.85,147.13 L357.10,147.50 L358.35,150.87 L359.10,152.35 L359.85,153.01 L360.35,153.19 L361.10,153.28 L368.35,153.38 L399.85,153.38 L400.85,153.13 L401.35,153.30 L401.85,152.73 L402.10,153.32 L402.35,152.87 L402.85,153.18 L403.10,153.04 L403.35,153.36 L403.60,152.76 L403.85,153.26 L404.10,153.15 L404.35,152.57 L404.60,153.13 L404.85,153.38 L405.35,153.12 L405.60,152.76 L405.85,153.07 L406.10,152.93 L406.35,153.27 L406.60,153.10 L406.85,153.23 L407.10,152.70 L407.35,152.65 L407.60,152.66 L407.85,153.34 L408.10,153.34 L408.60,152.97 L409.10,152.24 L409.35,152.22 L409.60,152.77 L409.85,152.93 L410.10,153.01 L410.35,152.59 L410.60,153.27 L410.85,153.15 L411.10,152.77 L411.35,153.07 L411.60,153.12 L411.85,152.95 L412.35,152.93 L412.60,153.33 L413.10,152.91 L413.35,152.89 L413.60,152.37 L414.10,152.91 L414.35,153.01 L414.60,152.11 L414.85,152.35 L415.10,151.87 L415.35,152.26 L415.60,151.52 L416.35,153.08 L416.60,153.10 L416.85,152.75 L417.10,153.10 L417.35,152.82 L417.60,152.99 L417.85,152.87 L418.10,153.01 L418.35,152.68 L418.60,153.07 L418.85,153.13 L419.10,152.71 L419.35,153.32 L419.60,153.08 L419.85,152.56 L420.10,152.29 L420.35,152.25 L420.85,152.61 L421.10,152.38 L421.60,152.91 L421.85,152.80 L422.10,153.30 L422.35,152.91 L422.60,153.27 L422.85,152.54 L423.10,153.26 L423.35,153.22 L423.60,152.89 L424.10,153.35 L424.60,153.23 L424.85,153.07 L425.10,153.16 L425.35,152.96 L425.60,153.13 L425.85,153.03 L426.10,152.36 L426.35,152.37 L427.10,153.19 L427.35,152.93 L427.85,153.26 L428.35,152.65 L428.60,153.28 L429.35,153.22 L429.60,153.01 L429.85,153.33 L430.35,152.26 L430.85,152.89 L431.35,152.33 L431.60,152.98 L431.85,152.81 L432.10,152.25 L432.35,152.18 L432.60,152.82 L432.85,153.08 L433.35,153.29 L433.60,153.28 L433.85,153.11 L434.10,152.61 L434.35,153.19 L434.60,152.70 L434.85,153.17 L435.10,153.04 L435.35,153.03 L435.60,152.71 L435.85,152.80 L436.10,153.13 L436.35,153.10 L436.60,152.76 L436.85,153.19 L437.10,152.83 L437.35,153.02 L437.60,152.78 L437.85,152.14 L438.10,152.44 L438.35,152.20 L439.10,152.84 L439.35,152.91 L439.60,152.70 L439.85,153.28 L440.10,152.97 L440.35,153.02 L440.60,152.78 L440.85,153.21 L441.10,152.71 L441.35,152.88 L441.60,152.59 L441.85,153.03 L442.10,152.62 L442.35,153.07 L442.60,153.02 L442.85,152.12 L443.10,152.88 L443.60,153.17 L444.10,152.87 L444.60,152.96 L444.85,153.15 L445.10,152.73 L445.35,153.14 L445.60,152.94 L445.85,152.47 L446.35,153.11 L446.60,152.51 L447.10,152.45 L447.35,152.74 L447.60,152.53 L448.10,152.41 L448.35,152.96 L448.60,153.05 L449.10,152.95 L449.35,152.54 L449.60,152.42 L449.85,152.77 L450.35,151.65 L450.60,151.67 L450.85,152.57 L451.10,151.81 L451.35,151.48 L451.85,152.28 L452.10,151.83 L452.35,151.85 L452.60,151.23 L453.10,151.86 L453.35,150.73 L453.60,150.50 L454.10,150.78 L454.35,150.30 L454.60,150.41 L455.10,149.24 L455.35,149.27 L455.60,148.81 L455.85,148.79 L456.10,148.63 L456.35,147.99 L456.60,147.78 L456.85,147.28 L457.10,147.03 L457.60,146.11 L458.60,143.63 L459.35,141.00 L459.85,138.47 L460.35,134.79 L461.10,125.53 L461.60,115.71 L462.35,94.49 L463.85,43.16 L464.35,33.68 L464.60,32.10 L464.85,32.82 L465.10,35.72 L465.35,40.53 L467.10,92.32 L467.60,103.28 L468.35,113.65 L469.10,119.22 L470.35,126.08 L472.35,138.68 L473.35,143.66 L474.10,146.35 L475.10,148.77 L475.60,149.62 L476.35,150.59 L477.10,151.30 L477.85,151.83 L479.85,152.59 L480.10,152.19 L480.85,152.48 L481.10,152.45 L481.60,152.93 L481.85,152.58 L482.35,152.56 L482.85,152.79 L483.10,152.70 L483.35,153.11 L483.85,153.04 L484.10,152.86 L484.35,152.83 L484.60,153.07 L485.85,153.17 L486.35,152.93 L486.60,152.57 L486.85,152.62 L487.10,153.17 L487.35,153.22 L487.85,152.88 L488.10,153.20 L488.35,153.11 L488.60,153.21 L488.85,153.11 L489.10,153.24 L489.60,152.86 L490.10,153.24 L490.35,153.17 L490.60,152.91 L490.85,152.87 L491.10,152.65 L492.35,153.26 L492.85,152.77 L493.10,152.78 L493.35,153.28 L493.85,153.02 L494.10,153.23 L494.35,152.77 L494.60,153.03 L494.85,152.56 L495.10,152.79 L495.35,152.77 L495.60,153.22 L495.85,153.02 L496.10,153.12 L496.35,153.03 L496.85,153.31 L497.35,152.39 L497.60,152.33 L497.85,152.57 L498.10,153.15 L498.35,153.08 L498.60,153.27 L499.10,153.01 L499.35,153.07 L499.60,153.00 L499.85,153.20 L500.35,153.30 L500.85,153.09 L501.10,153.23 L501.60,153.14 L501.85,153.25 L502.10,153.01 L502.85,152.90 L503.35,152.52 L503.60,152.43 L503.85,152.04 L504.10,152.07 L504.35,151.95 L504.60,151.55 L505.60,151.01 L505.85,151.44 L506.60,151.72 L506.85,152.33 L507.10,152.28 L508.60,153.13 L509.10,153.02 L509.35,153.26 L509.60,152.97 L510.10,152.78 L510.35,153.19 L510.60,153.18 L510.85,152.93 L511.10,153.28 L511.35,152.90 L511.60,152.94 L511.85,153.20 L512.10,152.78 L512.35,153.13 L512.60,152.95 L512.85,153.20 L514.35,153.10 L514.60,153.33 L514.85,153.16 L515.10,153.27 L516.85,153.31 L517.10,153.11 L517.35,153.07 L518.35,153.28 L518.60,153.22 L519.10,153.34 L520.10,153.37 L665.60,153.40 L665.60,153.40 Z" fill="#bcbcbc" stroke="none"/><path d="M24.60,153.40 L25.85,153.16 L26.60,153.37 L26.85,153.22 L27.10,153.37 L27.35,153.40 L27.85,153.24 L28.60,153.38 L29.10,153.28 L29.35,153.36 L29.60,153.09 L30.10,153.38 L30.60,152.74 L31.35,153.31 L31.60,152.89 L31.85,153.37 L32.10,153.39 L32.35,152.92 L32.85,153.38 L33.35,153.16 L33.85,153.29 L34.35,153.22 L34.60,153.34 L34.85,153.12 L35.10,153.30 L35.60,153.19 L35.85,153.32 L36.35,153.38 L36.60,153.28 L36.85,153.38 L37.10,153.31 L37.35,153.38 L37.60,153.26 L37.85,153.39 L38.10,153.29 L38.35,152.99 L38.60,153.08 L38.85,152.95 L39.10,153.01 L39.60,153.37 L39.85,153.15 L40.35,153.37 L40.60,153.15 L40.85,153.37 L41.10,153.11 L41.35,153.37 L41.60,152.92 L41.85,152.70 L42.10,153.18 L42.60,153.30 L42.85,152.88 L43.10,153.18 L43.35,153.13 L43.60,153.35 L43.85,153.23 L44.10,153.38 L44.35,153.22 L44.60,153.38 L45.10,153.28 L45.35,153.38 L45.60,153.18 L46.10,153.06 L46.35,153.35 L46.60,153.01 L47.10,153.16 L47.85,152.78 L48.35,153.25 L48.60,153.34 L49.10,153.00 L49.85,153.33 L50.35,153.37 L50.60,153.34 L50.85,152.86 L51.10,152.67 L51.35,153.18 L51.85,153.09 L52.10,153.29 L52.35,153.30 L52.60,153.14 L53.10,153.20 L53.60,152.93 L53.85,153.20 L54.10,153.28 L54.35,152.91 L54.85,153.31 L55.10,152.90 L55.60,153.33 L55.85,153.10 L56.10,153.11 L56.35,153.38 L56.60,152.93 L57.10,153.12 L57.35,153.04 L57.60,153.21 L57.85,153.17 L58.10,152.70 L58.60,153.39 L59.60,153.18 L59.85,152.88 L60.10,153.01 L60.35,152.98 L60.60,153.23 L60.85,152.89 L61.85,153.31 L62.10,153.04 L62.35,153.32 L62.85,153.21 L63.35,153.37 L63.60,153.20 L63.85,153.35 L64.35,152.79 L64.85,153.27 L65.35,153.24 L65.60,153.39 L66.35,153.23 L66.60,153.39 L67.10,153.04 L67.35,153.35 L67.60,153.08 L67.85,153.31 L68.10,153.33 L68.35,153.12 L68.85,153.15 L69.10,153.07 L69.35,153.32 L69.60,153.32 L69.85,153.27 L70.10,152.93 L70.35,153.10 L70.60,152.93 L70.85,153.17 L71.10,153.21 L71.35,152.98 L71.85,153.38 L72.10,153.20 L72.35,153.29 L72.60,153.12 L73.10,153.23 L73.60,153.05 L74.10,153.21 L74.35,153.16 L74.60,152.95 L74.85,152.93 L75.35,153.26 L75.60,152.95 L76.10,153.09 L76.35,153.32 L76.60,153.28 L76.85,152.95 L77.60,153.33 L77.85,153.21 L78.10,153.31 L78.35,153.16 L78.60,153.30 L78.85,153.15 L79.10,153.31 L80.10,153.36 L83.10,153.28 L84.10,153.08 L84.85,152.54 L85.60,151.33 L86.85,148.41 L87.10,148.06 L87.35,147.90 L87.60,147.97 L88.10,148.70 L89.10,151.11 L89.60,152.07 L90.10,152.69 L90.85,153.12 L92.60,153.30 L98.85,153.31 L103.10,153.20 L105.10,152.98 L105.60,152.78 L106.10,152.29 L106.60,151.18 L106.85,150.23 L107.60,145.11 L108.85,132.49 L109.10,131.17 L109.35,130.81 L109.60,131.47 L109.85,133.01 L111.10,144.17 L111.35,145.48 L111.60,146.25 L111.85,146.55 L112.10,146.46 L112.85,145.27 L113.10,145.02 L113.35,145.02 L113.60,145.31 L114.10,146.64 L115.10,150.23 L115.60,151.55 L115.85,152.03 L116.35,152.65 L116.85,152.96 L117.35,153.11 L120.10,153.29 L126.85,153.36 L179.85,153.39 L181.35,153.27 L181.60,153.33 L182.35,152.74 L182.60,153.09 L183.10,153.32 L183.35,153.02 L183.85,153.20 L184.35,153.21 L184.60,153.11 L185.60,153.24 L185.85,153.10 L186.35,153.20 L186.60,152.98 L186.85,153.22 L187.35,152.96 L188.10,153.19 L188.35,153.39 L188.85,152.68 L189.85,153.00 L190.10,153.38 L190.35,153.10 L190.60,153.26 L190.85,153.20 L192.35,153.39 L192.85,152.71 L193.35,152.95 L193.60,153.36 L193.85,153.23 L194.35,153.35 L195.10,152.69 L195.60,153.38 L195.85,153.25 L196.10,153.27 L196.35,152.93 L196.85,152.85 L197.35,153.30 L197.60,153.20 L198.10,153.20 L198.35,153.08 L198.60,153.18 L199.60,152.93 L199.85,153.38 L200.10,153.36 L200.60,153.12 L201.10,153.29 L201.85,153.16 L202.60,153.36 L202.85,153.01 L203.35,153.32 L203.60,152.91 L204.10,152.86 L204.35,152.95 L204.60,152.84 L205.10,153.35 L205.35,153.15 L205.60,153.13 L205.85,153.36 L206.10,153.10 L206.85,152.83 L207.10,152.60 L207.35,152.76 L207.60,153.22 L207.85,153.16 L208.10,153.35 L208.35,153.21 L208.60,152.53 L208.85,152.90 L209.10,152.96 L209.35,153.25 L209.60,153.03 L209.85,153.26 L210.35,153.34 L210.85,153.12 L211.35,153.17 L211.60,153.30 L212.10,153.11 L212.60,153.22 L212.85,153.12 L213.10,153.20 L213.35,152.96 L213.85,153.29 L214.10,152.94 L214.35,152.83 L214.85,153.29 L215.35,153.34 L216.10,152.85 L216.35,153.07 L216.85,153.25 L217.10,153.00 L217.60,153.03 L217.85,152.46 L218.10,152.64 L218.35,152.58 L218.60,152.11 L218.85,152.13 L219.10,152.46 L219.35,152.15 L219.60,152.23 L219.85,151.93 L220.85,151.72 L221.10,151.83 L221.35,152.13 L221.60,152.09 L222.10,152.20 L222.60,152.93 L222.85,152.82 L223.60,153.22 L223.85,152.92 L224.60,153.28 L225.10,153.07 L225.35,153.16 L225.60,153.02 L225.85,153.31 L226.10,153.29 L226.35,152.89 L226.60,153.16 L226.85,152.89 L227.10,152.40 L227.35,152.95 L227.60,153.08 L227.85,153.08 L228.10,152.80 L228.60,152.65 L228.85,153.16 L229.10,153.25 L229.35,152.77 L229.60,152.85 L229.85,152.76 L230.10,153.08 L230.35,153.08 L230.60,153.23 L230.85,152.96 L232.10,153.23 L232.60,153.16 L232.85,152.89 L233.85,153.19 L234.35,152.88 L234.60,152.58 L234.85,152.78 L235.10,152.74 L235.35,153.15 L235.85,153.06 L236.10,153.18 L236.35,153.15 L236.85,152.81 L237.60,153.09 L237.85,152.90 L238.10,153.06 L238.85,152.88 L239.10,152.72 L240.10,152.84 L240.85,152.64 L241.35,152.35 L241.85,151.78 L242.10,151.30 L242.60,149.64 L243.10,146.60 L243.85,138.29 L245.35,113.33 L245.60,110.60 L245.85,109.07 L246.10,108.91 L246.35,110.13 L246.85,116.03 L248.10,136.41 L248.60,141.53 L248.85,142.99 L249.10,143.74 L249.35,143.85 L249.60,143.46 L250.60,140.10 L250.85,139.72 L251.10,139.79 L251.35,140.34 L251.60,141.32 L252.85,148.42 L253.35,150.50 L253.60,151.23 L254.10,152.18 L254.60,152.66 L255.35,152.95 L258.10,153.19 L264.10,153.31 L299.85,153.39 L301.60,153.27 L301.85,153.20 L302.10,152.79 L302.60,152.94 L302.85,153.16 L303.35,152.99 L303.60,153.21 L303.85,153.20 L304.10,153.33 L304.60,153.21 L304.85,152.93 L305.10,152.97 L305.60,153.35 L305.85,153.17 L306.60,153.39 L307.10,153.31 L307.60,153.00 L307.85,153.33 L308.35,153.09 L308.85,153.06 L309.35,153.35 L309.60,153.25 L309.85,153.38 L310.10,153.38 L310.60,153.04 L310.85,153.13 L311.35,153.03 L311.60,153.06 L311.85,153.30 L312.35,153.38 L313.35,153.23 L313.60,153.36 L314.35,153.33 L314.85,153.09 L315.35,153.36 L315.85,153.22 L316.10,153.32 L316.60,152.84 L316.85,152.81 L317.10,153.25 L317.35,153.36 L317.60,153.36 L318.10,153.10 L318.35,153.12 L318.85,153.36 L319.10,153.17 L319.60,153.25 L319.85,153.39 L320.60,153.36 L320.85,153.29 L321.10,153.01 L321.35,152.90 L321.60,152.96 L321.85,153.35 L322.60,153.17 L322.85,153.34 L323.35,153.36 L323.85,153.08 L324.35,153.26 L325.10,153.36 L325.85,153.08 L326.10,153.29 L326.85,153.36 L327.10,153.11 L327.60,153.02 L328.10,153.12 L328.35,153.29 L329.10,153.11 L329.35,153.24 L330.35,153.28 L330.85,153.10 L331.10,153.11 L331.35,153.27 L331.60,153.16 L332.35,153.37 L332.60,153.24 L333.35,153.31 L333.85,152.99 L334.35,153.31 L334.60,153.28 L334.85,153.08 L335.10,153.07 L335.35,153.30 L335.85,153.20 L336.10,153.33 L336.60,153.02 L337.10,153.38 L337.60,153.18 L337.85,153.30 L338.10,152.97 L338.35,152.84 L338.85,153.04 L339.35,152.80 L339.60,152.86 L339.85,153.17 L340.35,153.33 L341.10,153.25 L341.35,153.34 L341.60,153.31 L341.85,153.13 L342.10,153.38 L342.35,153.31 L342.60,153.01 L343.10,153.26 L343.35,153.21 L343.85,153.33 L344.10,153.23 L344.35,153.34 L344.60,153.14 L345.60,153.35 L345.85,153.31 L346.10,153.06 L346.35,153.16 L346.60,153.05 L346.85,153.36 L347.35,153.17 L347.60,153.31 L347.85,153.14 L348.10,153.09 L348.35,153.32 L348.85,153.11 L349.10,153.27 L349.60,153.34 L352.10,153.29 L352.85,153.19 L353.35,153.01 L354.10,152.35 L354.85,150.87 L356.10,147.50 L356.35,147.13 L356.60,147.00 L356.85,147.13 L357.10,147.50 L358.35,150.87 L359.10,152.35 L359.85,153.01 L360.35,153.19 L361.10,153.28 L368.35,153.38 L399.85,153.38 L400.85,153.13 L401.35,153.30 L401.85,152.73 L402.10,153.32 L402.35,152.87 L402.85,153.18 L403.10,153.04 L403.35,153.36 L403.60,152.76 L403.85,153.26 L404.10,153.15 L404.35,152.57 L404.60,153.13 L404.85,153.38 L405.35,153.12 L405.60,152.76 L405.85,153.07 L406.10,152.93 L406.35,153.27 L406.60,153.10 L406.85,153.23 L407.10,152.70 L407.35,152.65 L407.60,152.66 L407.85,153.34 L408.10,153.34 L408.60,152.97 L409.10,152.24 L409.35,152.22 L409.60,152.77 L409.85,152.93 L410.10,153.01 L410.35,152.59 L410.60,153.27 L410.85,153.15 L411.10,152.77 L411.35,153.07 L411.60,153.12 L411.85,152.95 L412.35,152.93 L412.60,153.33 L413.10,152.91 L413.35,152.89 L413.60,152.37 L414.10,152.91 L414.35,153.01 L414.60,152.11 L414.85,152.35 L415.10,151.87 L415.35,152.26 L415.60,151.52 L416.35,153.08 L416.60,153.10 L416.85,152.75 L417.10,153.10 L417.35,152.82 L417.60,152.99 L417.85,152.87 L418.10,153.01 L418.35,152.68 L418.60,153.07 L418.85,153.13 L419.10,152.71 L419.35,153.32 L419.60,153.08 L419.85,152.56 L420.10,152.29 L420.35,152.25 L420.85,152.61 L421.10,152.38 L421.60,152.91 L421.85,152.80 L422.10,153.30 L422.35,152.91 L422.60,153.27 L422.85,152.54 L423.10,153.26 L423.35,153.22 L423.60,152.89 L424.10,153.35 L424.60,153.23 L424.85,153.07 L425.10,153.16 L425.35,152.96 L425.60,153.13 L425.85,153.03 L426.10,152.36 L426.35,152.37 L427.10,153.19 L427.35,152.93 L427.85,153.26 L428.35,152.65 L428.60,153.28 L429.35,153.22 L429.60,153.01 L429.85,153.33 L430.35,152.26 L430.85,152.89 L431.35,152.33 L431.60,152.98 L431.85,152.81 L432.10,152.25 L432.35,152.18 L432.60,152.82 L432.85,153.08 L433.35,153.29 L433.60,153.28 L433.85,153.11 L434.10,152.61 L434.35,153.19 L434.60,152.70 L434.85,153.17 L435.10,153.04 L435.35,153.03 L435.60,152.71 L435.85,152.80 L436.10,153.13 L436.35,153.10 L436.60,152.76 L436.85,153.19 L437.10,152.83 L437.35,153.02 L437.60,152.78 L437.85,152.14 L438.10,152.44 L438.35,152.20 L439.10,152.84 L439.35,152.91 L439.60,152.70 L439.85,153.28 L440.10,152.97 L440.35,153.02 L440.60,152.78 L440.85,153.21 L441.10,152.71 L441.35,152.88 L441.60,152.59 L441.85,153.03 L442.10,152.62 L442.35,153.07 L442.60,153.02 L442.85,152.12 L443.10,152.88 L443.60,153.17 L444.10,152.87 L444.60,152.96 L444.85,153.15 L445.10,152.73 L445.35,153.14 L445.60,152.94 L445.85,152.47 L446.35,153.11 L446.60,152.51 L447.10,152.45 L447.35,152.74 L447.60,152.53 L448.10,152.41 L448.35,152.96 L448.60,153.05 L449.10,152.95 L449.35,152.54 L449.60,152.42 L449.85,152.77 L450.35,151.65 L450.60,151.67 L450.85,152.57 L451.10,151.81 L451.35,151.48 L451.85,152.28 L452.10,151.83 L452.35,151.85 L452.60,151.23 L453.10,151.86 L453.35,150.73 L453.60,150.50 L454.10,150.78 L454.35,150.30 L454.60,150.41 L455.10,149.24 L455.35,149.27 L455.60,148.81 L455.85,148.79 L456.10,148.63 L456.35,147.99 L456.60,147.78 L456.85,147.28 L457.10,147.03 L457.60,146.11 L458.60,143.63 L459.35,141.00 L459.85,138.47 L460.35,134.79 L461.10,125.53 L461.60,115.71 L462.35,94.49 L463.85,43.16 L464.35,33.68 L464.60,32.10 L464.85,32.82 L465.10,35.72 L465.35,40.53 L467.10,92.32 L467.60,103.28 L468.35,113.65 L469.10,119.22 L470.35,126.08 L472.35,138.68 L473.35,143.66 L474.10,146.35 L475.10,148.77 L475.60,149.62 L476.35,150.59 L477.10,151.30 L477.85,151.83 L479.85,152.59 L480.10,152.19 L480.85,152.48 L481.10,152.45 L481.60,152.93 L481.85,152.58 L482.35,152.56 L482.85,152.79 L483.10,152.70 L483.35,153.11 L483.85,153.04 L484.10,152.86 L484.35,152.83 L484.60,153.07 L485.85,153.17 L486.35,152.93 L486.60,152.57 L486.85,152.62 L487.10,153.17 L487.35,153.22 L487.85,152.88 L488.10,153.20 L488.35,153.11 L488.60,153.21 L488.85,153.11 L489.10,153.24 L489.60,152.86 L490.10,153.24 L490.35,153.17 L490.60,152.91 L490.85,152.87 L491.10,152.65 L492.35,153.26 L492.85,152.77 L493.10,152.78 L493.35,153.28 L493.85,153.02 L494.10,153.23 L494.35,152.77 L494.60,153.03 L494.85,152.56 L495.10,152.79 L495.35,152.77 L495.60,153.22 L495.85,153.02 L496.10,153.12 L496.35,153.03 L496.85,153.31 L497.35,152.39 L497.60,152.33 L497.85,152.57 L498.10,153.15 L498.35,153.08 L498.60,153.27 L499.10,153.01 L499.35,153.07 L499.60,153.00 L499.85,153.20 L500.35,153.30 L500.85,153.09 L501.10,153.23 L501.60,153.14 L501.85,153.25 L502.10,153.01 L502.85,152.90 L503.35,152.52 L503.60,152.43 L503.85,152.04 L504.10,152.07 L504.35,151.95 L504.60,151.55 L505.60,151.01 L505.85,151.44 L506.60,151.72 L506.85,152.33 L507.10,152.28 L508.60,153.13 L509.10,153.02 L509.35,153.26 L509.60,152.97 L510.10,152.78 L510.35,153.19 L510.60,153.18 L510.85,152.93 L511.10,153.28 L511.35,152.90 L511.60,152.94 L511.85,153.20 L512.10,152.78 L512.35,153.13 L512.60,152.95 L512.85,153.20 L514.35,153.10 L514.60,153.33 L514.85,153.16 L515.10,153.27 L516.85,153.31 L517.10,153.11 L517.35,153.07 L518.35,153.28 L518.60,153.22 L519.10,153.34 L520.10,153.37 L665.60,153.40" fill="none" stroke="#222" stroke-width="1.0" stroke-linejoin="round"/><line x1="24.30" y1="148.80" x2="665.80" y2="148.80" stroke="#222" stroke-width="1.5"/><path d="M24.60,153.40 L24.60,153.40 L28.85,153.40 L29.10,153.48 L29.35,153.72 L29.85,154.54 L30.60,156.46 L31.60,160.12 L32.60,164.87 L33.85,172.22 L34.10,172.54 L34.85,168.27 L35.60,165.70 L35.85,165.18 L36.35,164.58 L36.60,164.52 L36.85,164.60 L37.10,164.83 L37.60,165.75 L37.85,166.44 L38.35,168.29 L38.85,170.95 L39.35,174.52 L39.60,175.05 L40.85,168.07 L41.60,164.94 L42.10,163.31 L42.85,161.58 L43.35,160.94 L44.10,158.21 L44.60,156.97 L45.85,155.25 L46.60,154.45 L47.10,154.09 L47.60,154.04 L48.10,154.27 L48.85,155.12 L49.60,156.32 L50.60,158.31 L51.35,160.07 L51.85,161.69 L52.35,161.60 L52.60,161.63 L52.85,161.79 L53.10,162.08 L53.60,163.01 L54.10,164.41 L54.85,167.32 L56.10,174.32 L56.35,173.77 L57.60,165.16 L58.85,158.73 L59.85,155.19 L60.35,154.05 L60.85,153.44 L79.35,153.40 L79.60,153.48 L80.10,154.06 L80.60,155.06 L81.10,156.40 L81.85,158.98 L83.10,164.64 L84.35,171.84 L84.60,172.16 L85.60,166.24 L86.35,162.44 L86.85,160.65 L87.10,160.00 L87.60,159.15 L87.85,158.94 L88.10,158.88 L88.35,158.96 L88.85,159.58 L89.10,160.13 L89.60,161.75 L90.85,167.70 L91.10,167.96 L92.35,161.97 L92.60,161.18 L92.85,160.75 L93.10,160.61 L93.35,160.74 L93.60,161.11 L94.10,162.57 L94.60,164.95 L95.10,168.22 L95.85,174.91 L97.10,189.50 L97.60,184.06 L97.85,182.12 L98.35,179.52 L98.60,178.81 L98.85,178.48 L99.10,178.52 L99.35,178.92 L99.85,180.79 L100.60,186.28 L101.10,191.76 L102.35,210.44 L103.85,184.73 L105.10,168.38 L105.85,161.06 L106.35,157.35 L106.85,154.72 L107.10,153.87 L107.35,153.42 L112.10,153.40 L112.35,153.57 L112.60,154.10 L113.10,155.93 L113.60,158.63 L114.10,162.08 L115.35,173.62 L116.35,185.54 L117.60,203.50 L119.10,182.35 L119.85,173.62 L120.60,166.22 L121.35,160.27 L121.85,157.18 L122.60,154.10 L122.85,153.57 L123.10,153.40 L135.85,153.40 L136.10,153.50 L136.35,153.97 L136.85,155.71 L137.60,159.92 L138.85,170.49 L140.10,184.89 L141.35,202.72 L141.60,200.41 L143.10,179.90 L144.35,166.67 L145.10,160.62 L145.60,157.46 L146.35,154.24 L146.60,153.65 L146.85,153.40 L147.85,153.44 L148.35,153.91 L148.85,154.74 L149.60,156.54 L150.35,158.92 L151.10,161.83 L152.60,169.10 L152.85,169.92 L154.35,162.47 L155.60,157.74 L156.35,155.62 L156.85,154.54 L157.35,153.78 L157.85,153.41 L162.60,153.40 L163.60,153.78 L164.60,154.58 L165.60,155.71 L166.85,157.55 L168.35,160.29 L168.60,160.40 L169.85,158.05 L170.85,156.46 L172.10,154.88 L173.10,153.98 L173.85,153.55 L174.35,153.41 L178.60,153.46 L179.10,153.69 L179.85,154.24 L181.10,155.63 L182.60,157.98 L184.10,160.98 L184.35,160.87 L186.10,157.46 L187.60,155.25 L188.10,154.69 L188.60,154.35 L189.10,154.21 L189.60,154.26 L190.35,154.74 L191.60,156.11 L192.10,156.80 L192.85,158.26 L193.10,158.53 L193.60,158.26 L194.35,158.15 L195.10,158.39 L195.85,158.97 L196.60,159.89 L197.85,161.97 L199.10,159.10 L200.60,156.34 L201.60,155.15 L202.10,154.80 L202.60,154.62 L203.10,154.61 L203.60,154.80 L204.60,155.65 L205.60,156.69 L205.85,156.63 L206.60,155.91 L207.35,155.58 L208.10,155.59 L208.85,155.92 L209.60,156.55 L210.35,157.48 L211.10,158.75 L212.10,160.77 L212.35,160.70 L213.60,158.60 L214.85,157.18 L215.85,156.55 L216.85,156.38 L217.10,156.25 L218.10,155.08 L218.60,154.79 L219.35,154.52 L220.35,154.43 L221.35,154.66 L222.10,155.05 L223.10,155.82 L223.35,155.78 L224.60,154.85 L225.85,154.12 L227.10,153.61 L228.10,153.41 L232.60,153.48 L234.85,153.74 L237.35,154.20 L237.60,154.36 L238.10,155.48 L238.85,158.58 L239.85,164.66 L240.60,170.34 L242.10,184.88 L243.85,206.70 L244.10,204.58 L245.85,182.64 L247.35,168.05 L248.10,162.39 L248.85,157.93 L249.60,154.81 L250.10,153.63 L250.35,153.40 L252.60,153.47 L253.35,154.10 L254.10,155.21 L255.10,157.30 L256.10,160.02 L257.10,163.29 L258.10,167.08 L258.35,167.69 L259.60,162.94 L260.85,159.00 L261.60,157.25 L262.10,156.41 L262.60,155.81 L263.35,155.40 L263.85,155.48 L264.10,155.65 L265.10,156.90 L266.60,159.25 L266.85,159.51 L268.35,157.11 L269.60,155.50 L270.85,154.29 L271.10,154.29 L271.35,154.55 L271.85,155.65 L272.60,158.59 L273.85,166.34 L275.10,176.80 L276.60,192.54 L276.85,194.31 L278.35,178.45 L279.10,171.82 L279.85,166.28 L280.60,162.09 L281.35,159.06 L281.85,157.71 L282.10,157.29 L282.35,157.08 L282.60,157.08 L282.85,157.37 L284.35,160.10 L286.35,156.34 L287.35,154.94 L288.10,154.14 L288.85,153.60 L289.35,153.42 L291.60,153.41 L292.10,153.54 L292.85,153.93 L293.60,154.50 L294.35,155.23 L295.85,157.11 L297.35,159.51 L297.60,159.25 L299.10,156.90 L300.35,155.34 L301.10,154.63 L301.60,154.37 L302.10,154.26 L302.60,154.31 L303.10,154.52 L303.85,155.15 L305.10,156.51 L306.60,158.55 L306.85,158.47 L308.60,156.16 L310.10,154.66 L310.85,154.09 L311.60,153.68 L312.35,153.43 L312.60,153.46 L313.10,154.13 L313.85,156.07 L314.60,158.95 L315.35,162.62 L316.85,172.14 L318.35,184.25 L318.60,182.93 L320.35,169.34 L321.60,161.83 L322.35,158.30 L322.85,156.41 L323.60,154.33 L324.10,153.54 L324.35,153.40 L325.60,153.42 L327.10,153.80 L329.10,154.78 L331.10,156.22 L331.35,156.18 L332.85,155.07 L334.10,154.33 L335.35,153.78 L336.35,153.50 L337.10,153.40 L345.35,153.40 L345.60,153.52 L345.85,154.06 L346.60,157.38 L347.35,162.74 L348.10,169.83 L349.60,188.63 L351.35,217.47 L351.60,214.73 L353.35,186.49 L354.60,170.90 L355.35,163.59 L356.10,157.98 L356.85,154.36 L357.10,153.70 L357.35,153.40 L368.60,153.40 L368.85,153.50 L369.35,154.22 L369.85,155.42 L370.60,157.98 L371.35,161.35 L372.10,165.44 L373.60,175.61 L375.10,188.20 L376.85,173.74 L377.85,166.96 L378.60,162.63 L379.35,159.02 L380.10,156.18 L380.85,154.22 L381.35,153.50 L381.60,153.40 L385.10,153.42 L387.10,153.83 L388.60,154.38 L390.10,155.11 L391.60,156.00 L393.10,157.03 L393.35,156.99 L396.10,155.22 L398.10,154.26 L399.85,153.69 L400.60,153.60 L401.35,153.64 L403.35,154.22 L405.35,155.10 L407.35,156.22 L409.85,157.86 L412.60,156.01 L415.10,154.69 L417.35,153.86 L419.60,153.42 L463.35,153.40 L463.60,153.65 L464.10,155.81 L464.60,159.56 L465.10,164.63 L465.85,174.43 L466.85,191.18 L467.85,211.77 L468.85,235.89 L470.85,293.99 L471.10,289.20 L473.10,232.06 L474.85,193.07 L475.85,175.92 L476.60,165.79 L477.10,160.47 L477.60,156.45 L478.10,153.93 L478.35,153.41 L482.85,153.40 L483.10,153.47 L483.60,154.14 L484.35,156.10 L484.85,157.92 L485.60,161.34 L486.85,168.69 L488.10,177.90 L489.35,188.83 L489.60,187.43 L491.35,172.89 L492.60,164.62 L493.85,158.33 L494.60,155.63 L495.10,154.34 L495.60,153.55 L495.85,153.40 L506.35,153.40 L506.60,153.58 L506.85,154.00 L507.35,155.37 L508.10,158.53 L508.85,162.84 L509.60,168.17 L510.35,174.45 L511.35,184.18 L513.35,207.99 L513.60,208.66 L515.60,184.71 L516.60,174.90 L517.35,168.56 L518.35,161.59 L519.10,157.57 L519.85,154.74 L520.35,153.64 L520.60,153.41 L665.60,153.40 L665.60,153.40 Z" fill="url(#gb)" stroke="none"/><path d="M24.60,153.40 L28.85,153.40 L29.10,153.48 L29.35,153.72 L29.85,154.54 L30.60,156.46 L31.60,160.12 L32.60,164.87 L33.85,172.22 L34.10,172.54 L34.85,168.27 L35.60,165.70 L35.85,165.18 L36.35,164.58 L36.60,164.52 L36.85,164.60 L37.10,164.83 L37.60,165.75 L37.85,166.44 L38.35,168.29 L38.85,170.95 L39.35,174.52 L39.60,175.05 L40.85,168.07 L41.60,164.94 L42.10,163.31 L42.85,161.58 L43.35,160.94 L44.10,158.21 L44.60,156.97 L45.85,155.25 L46.60,154.45 L47.10,154.09 L47.60,154.04 L48.10,154.27 L48.85,155.12 L49.60,156.32 L50.60,158.31 L51.35,160.07 L51.85,161.69 L52.35,161.60 L52.60,161.63 L52.85,161.79 L53.10,162.08 L53.60,163.01 L54.10,164.41 L54.85,167.32 L56.10,174.32 L56.35,173.77 L57.60,165.16 L58.85,158.73 L59.85,155.19 L60.35,154.05 L60.85,153.44 L79.35,153.40 L79.60,153.48 L80.10,154.06 L80.60,155.06 L81.10,156.40 L81.85,158.98 L83.10,164.64 L84.35,171.84 L84.60,172.16 L85.60,166.24 L86.35,162.44 L86.85,160.65 L87.10,160.00 L87.60,159.15 L87.85,158.94 L88.10,158.88 L88.35,158.96 L88.85,159.58 L89.10,160.13 L89.60,161.75 L90.85,167.70 L91.10,167.96 L92.35,161.97 L92.60,161.18 L92.85,160.75 L93.10,160.61 L93.35,160.74 L93.60,161.11 L94.10,162.57 L94.60,164.95 L95.10,168.22 L95.85,174.91 L97.10,189.50 L97.60,184.06 L97.85,182.12 L98.35,179.52 L98.60,178.81 L98.85,178.48 L99.10,178.52 L99.35,178.92 L99.85,180.79 L100.60,186.28 L101.10,191.76 L102.35,210.44 L103.85,184.73 L105.10,168.38 L105.85,161.06 L106.35,157.35 L106.85,154.72 L107.10,153.87 L107.35,153.42 L112.10,153.40 L112.35,153.57 L112.60,154.10 L113.10,155.93 L113.60,158.63 L114.10,162.08 L115.35,173.62 L116.35,185.54 L117.60,203.50 L119.10,182.35 L119.85,173.62 L120.60,166.22 L121.35,160.27 L121.85,157.18 L122.60,154.10 L122.85,153.57 L123.10,153.40 L135.85,153.40 L136.10,153.50 L136.35,153.97 L136.85,155.71 L137.60,159.92 L138.85,170.49 L140.10,184.89 L141.35,202.72 L141.60,200.41 L143.10,179.90 L144.35,166.67 L145.10,160.62 L145.60,157.46 L146.35,154.24 L146.60,153.65 L146.85,153.40 L147.85,153.44 L148.35,153.91 L148.85,154.74 L149.60,156.54 L150.35,158.92 L151.10,161.83 L152.60,169.10 L152.85,169.92 L154.35,162.47 L155.60,157.74 L156.35,155.62 L156.85,154.54 L157.35,153.78 L157.85,153.41 L162.60,153.40 L163.60,153.78 L164.60,154.58 L165.60,155.71 L166.85,157.55 L168.35,160.29 L168.60,160.40 L169.85,158.05 L170.85,156.46 L172.10,154.88 L173.10,153.98 L173.85,153.55 L174.35,153.41 L178.60,153.46 L179.10,153.69 L179.85,154.24 L181.10,155.63 L182.60,157.98 L184.10,160.98 L184.35,160.87 L186.10,157.46 L187.60,155.25 L188.10,154.69 L188.60,154.35 L189.10,154.21 L189.60,154.26 L190.35,154.74 L191.60,156.11 L192.10,156.80 L192.85,158.26 L193.10,158.53 L193.60,158.26 L194.35,158.15 L195.10,158.39 L195.85,158.97 L196.60,159.89 L197.85,161.97 L199.10,159.10 L200.60,156.34 L201.60,155.15 L202.10,154.80 L202.60,154.62 L203.10,154.61 L203.60,154.80 L204.60,155.65 L205.60,156.69 L205.85,156.63 L206.60,155.91 L207.35,155.58 L208.10,155.59 L208.85,155.92 L209.60,156.55 L210.35,157.48 L211.10,158.75 L212.10,160.77 L212.35,160.70 L213.60,158.60 L214.85,157.18 L215.85,156.55 L216.85,156.38 L217.10,156.25 L218.10,155.08 L218.60,154.79 L219.35,154.52 L220.35,154.43 L221.35,154.66 L222.10,155.05 L223.10,155.82 L223.35,155.78 L224.60,154.85 L225.85,154.12 L227.10,153.61 L228.10,153.41 L232.60,153.48 L234.85,153.74 L237.35,154.20 L237.60,154.36 L238.10,155.48 L238.85,158.58 L239.85,164.66 L240.60,170.34 L242.10,184.88 L243.85,206.70 L244.10,204.58 L245.85,182.64 L247.35,168.05 L248.10,162.39 L248.85,157.93 L249.60,154.81 L250.10,153.63 L250.35,153.40 L252.60,153.47 L253.35,154.10 L254.10,155.21 L255.10,157.30 L256.10,160.02 L257.10,163.29 L258.10,167.08 L258.35,167.69 L259.60,162.94 L260.85,159.00 L261.60,157.25 L262.10,156.41 L262.60,155.81 L263.35,155.40 L263.85,155.48 L264.10,155.65 L265.10,156.90 L266.60,159.25 L266.85,159.51 L268.35,157.11 L269.60,155.50 L270.85,154.29 L271.10,154.29 L271.35,154.55 L271.85,155.65 L272.60,158.59 L273.85,166.34 L275.10,176.80 L276.60,192.54 L276.85,194.31 L278.35,178.45 L279.10,171.82 L279.85,166.28 L280.60,162.09 L281.35,159.06 L281.85,157.71 L282.10,157.29 L282.35,157.08 L282.60,157.08 L282.85,157.37 L284.35,160.10 L286.35,156.34 L287.35,154.94 L288.10,154.14 L288.85,153.60 L289.35,153.42 L291.60,153.41 L292.10,153.54 L292.85,153.93 L293.60,154.50 L294.35,155.23 L295.85,157.11 L297.35,159.51 L297.60,159.25 L299.10,156.90 L300.35,155.34 L301.10,154.63 L301.60,154.37 L302.10,154.26 L302.60,154.31 L303.10,154.52 L303.85,155.15 L305.10,156.51 L306.60,158.55 L306.85,158.47 L308.60,156.16 L310.10,154.66 L310.85,154.09 L311.60,153.68 L312.35,153.43 L312.60,153.46 L313.10,154.13 L313.85,156.07 L314.60,158.95 L315.35,162.62 L316.85,172.14 L318.35,184.25 L318.60,182.93 L320.35,169.34 L321.60,161.83 L322.35,158.30 L322.85,156.41 L323.60,154.33 L324.10,153.54 L324.35,153.40 L325.60,153.42 L327.10,153.80 L329.10,154.78 L331.10,156.22 L331.35,156.18 L332.85,155.07 L334.10,154.33 L335.35,153.78 L336.35,153.50 L337.10,153.40 L345.35,153.40 L345.60,153.52 L345.85,154.06 L346.60,157.38 L347.35,162.74 L348.10,169.83 L349.60,188.63 L351.35,217.47 L351.60,214.73 L353.35,186.49 L354.60,170.90 L355.35,163.59 L356.10,157.98 L356.85,154.36 L357.10,153.70 L357.35,153.40 L368.60,153.40 L368.85,153.50 L369.35,154.22 L369.85,155.42 L370.60,157.98 L371.35,161.35 L372.10,165.44 L373.60,175.61 L375.10,188.20 L376.85,173.74 L377.85,166.96 L378.60,162.63 L379.35,159.02 L380.10,156.18 L380.85,154.22 L381.35,153.50 L381.60,153.40 L385.10,153.42 L387.10,153.83 L388.60,154.38 L390.10,155.11 L391.60,156.00 L393.10,157.03 L393.35,156.99 L396.10,155.22 L398.10,154.26 L399.85,153.69 L400.60,153.60 L401.35,153.64 L403.35,154.22 L405.35,155.10 L407.35,156.22 L409.85,157.86 L412.60,156.01 L415.10,154.69 L417.35,153.86 L419.60,153.42 L463.35,153.40 L463.60,153.65 L464.10,155.81 L464.60,159.56 L465.10,164.63 L465.85,174.43 L466.85,191.18 L467.85,211.77 L468.85,235.89 L470.85,293.99 L471.10,289.20 L473.10,232.06 L474.85,193.07 L475.85,175.92 L476.60,165.79 L477.10,160.47 L477.60,156.45 L478.10,153.93 L478.35,153.41 L482.85,153.40 L483.10,153.47 L483.60,154.14 L484.35,156.10 L484.85,157.92 L485.60,161.34 L486.85,168.69 L488.10,177.90 L489.35,188.83 L489.60,187.43 L491.35,172.89 L492.60,164.62 L493.85,158.33 L494.60,155.63 L495.10,154.34 L495.60,153.55 L495.85,153.40 L506.35,153.40 L506.60,153.58 L506.85,154.00 L507.35,155.37 L508.10,158.53 L508.85,162.84 L509.60,168.17 L510.35,174.45 L511.35,184.18 L513.35,207.99 L513.60,208.66 L515.60,184.71 L516.60,174.90 L517.35,168.56 L518.35,161.59 L519.10,157.57 L519.85,154.74 L520.35,153.64 L520.60,153.41 L665.60,153.40" fill="none" stroke="#111" stroke-width="1.1" stroke-linejoin="round"/><line x1="24.30" y1="153.40" x2="665.80" y2="153.40" stroke="#2a2a2a" stroke-width="1.1"/><path d="M24.60,349.90 L24.60,349.90 L28.10,349.90 L28.35,350.04 L28.60,350.36 L29.10,351.41 L30.10,354.81 L31.10,359.68 L32.10,365.85 L33.10,373.20 L33.35,372.81 L34.60,363.87 L35.60,358.20 L36.60,354.31 L37.10,353.04 L37.60,352.28 L37.85,352.11 L38.10,352.10 L38.35,352.30 L40.10,354.80 L41.85,352.30 L43.35,350.77 L44.60,350.03 L45.10,349.91 L46.10,349.91 L47.35,350.24 L48.85,351.08 L50.35,352.29 L51.85,353.84 L54.35,351.52 L55.35,350.82 L56.35,350.28 L57.10,350.02 L57.85,349.90 L60.10,349.90 L60.35,350.05 L60.85,350.90 L61.35,352.27 L61.85,354.10 L62.60,357.61 L63.85,365.26 L65.10,374.94 L65.35,374.52 L66.60,364.91 L67.60,358.69 L68.60,353.90 L69.35,351.39 L69.85,350.32 L70.10,350.01 L70.35,349.90 L74.35,349.90 L74.60,350.00 L74.85,350.77 L75.10,352.08 L75.85,358.56 L76.35,364.70 L77.10,376.29 L78.35,401.34 L79.60,433.60 L80.85,403.99 L81.85,385.59 L82.85,372.24 L83.60,365.90 L84.10,360.38 L84.60,356.82 L85.60,354.14 L86.60,352.09 L87.35,350.93 L88.10,350.19 L88.60,350.00 L90.60,350.47 L92.60,351.25 L95.60,350.26 L95.85,350.40 L96.35,351.07 L96.85,352.19 L97.35,353.70 L98.35,357.78 L99.35,363.04 L100.60,371.10 L101.60,364.53 L102.35,360.28 L103.10,356.64 L103.85,353.68 L104.60,351.46 L105.35,350.12 L105.60,349.93 L105.85,349.90 L106.35,349.90 L106.60,350.00 L107.10,350.75 L107.60,352.04 L108.10,353.76 L108.85,357.09 L110.10,364.39 L111.35,373.66 L111.60,374.07 L113.10,363.08 L114.35,356.12 L115.10,353.02 L115.60,351.47 L115.85,350.86 L116.10,350.64 L116.35,350.92 L116.85,352.78 L117.35,355.68 L117.85,359.35 L118.60,366.17 L119.60,377.51 L121.10,398.88 L121.35,401.29 L122.85,379.42 L123.60,370.41 L124.35,362.80 L125.10,356.70 L125.60,353.56 L126.35,350.49 L126.60,350.00 L126.85,349.90 L141.10,349.92 L143.35,350.36 L145.85,351.28 L147.60,350.57 L148.10,350.54 L148.60,350.79 L149.10,351.26 L149.60,351.92 L150.35,353.25 L151.35,355.62 L152.60,359.34 L152.85,359.83 L154.35,355.36 L155.60,352.51 L156.35,351.23 L156.85,350.59 L157.35,350.13 L157.85,349.90 L174.85,349.90 L175.35,349.98 L176.10,350.33 L176.85,350.88 L178.35,352.48 L179.85,354.67 L181.60,357.89 L181.85,357.80 L183.35,355.15 L184.60,353.42 L185.35,352.75 L186.85,351.96 L187.60,351.87 L188.35,352.11 L189.60,353.12 L190.85,354.41 L191.10,354.50 L191.85,353.84 L192.60,353.34 L193.35,353.00 L194.35,352.78 L195.10,352.79 L195.85,352.95 L196.60,353.27 L197.35,353.76 L199.85,351.71 L200.60,351.34 L201.60,351.14 L202.35,351.19 L203.10,351.40 L204.35,352.18 L206.60,354.38 L209.10,357.50 L211.35,354.66 L213.60,352.39 L214.85,351.40 L215.85,350.76 L216.85,350.28 L217.35,350.22 L217.85,350.48 L218.60,351.36 L219.35,352.69 L220.10,354.35 L221.60,358.58 L223.10,363.90 L224.85,357.80 L226.35,353.76 L227.10,352.21 L227.85,351.00 L228.60,350.19 L229.10,349.92 L234.10,349.92 L234.60,350.09 L235.35,350.55 L236.60,351.77 L237.85,353.47 L239.10,355.60 L240.60,358.68 L240.85,358.57 L242.60,355.06 L244.35,352.33 L245.10,351.43 L245.85,350.71 L246.60,350.19 L247.10,349.97 L247.60,349.90 L253.85,349.90 L255.85,350.03 L259.60,350.67 L264.10,351.87 L267.10,350.98 L267.60,350.96 L268.35,351.29 L269.10,351.95 L269.85,352.89 L270.60,354.09 L272.10,357.20 L273.85,361.94 L274.10,362.09 L275.85,357.18 L277.60,353.37 L278.60,351.74 L279.35,350.80 L280.10,350.16 L280.60,349.97 L280.85,349.98 L281.85,350.22 L282.85,350.60 L285.10,351.83 L285.35,351.80 L286.60,351.12 L287.35,351.16 L288.10,351.56 L289.10,352.57 L290.35,354.58 L291.60,357.29 L292.85,360.49 L294.60,365.75 L294.85,366.24 L295.35,364.75 L295.60,364.25 L296.10,363.66 L296.35,363.54 L296.85,363.63 L297.10,363.83 L297.60,364.52 L298.10,365.59 L298.85,367.86 L300.10,373.37 L300.35,372.62 L301.60,363.16 L302.85,356.06 L303.35,354.00 L304.10,351.70 L304.85,350.26 L305.10,350.03 L305.35,349.98 L307.35,350.52 L309.60,351.58 L311.10,352.50 L312.85,353.78 L313.35,353.80 L313.60,353.93 L313.85,354.18 L314.35,355.02 L315.35,357.85 L316.35,362.03 L317.60,368.96 L318.85,377.65 L319.10,377.96 L320.10,370.15 L321.10,363.47 L321.85,359.44 L322.10,358.51 L322.60,357.24 L323.10,356.69 L323.35,356.68 L323.60,356.84 L324.10,357.71 L324.60,359.31 L325.60,364.79 L326.85,373.45 L327.10,373.83 L328.60,363.56 L329.85,356.90 L330.60,353.81 L331.10,352.18 L331.85,350.47 L332.35,349.92 L336.10,349.90 L337.10,349.99 L339.10,350.41 L341.10,351.10 L343.60,350.28 L345.85,349.91 L356.60,349.94 L357.10,350.28 L357.60,350.84 L358.10,351.60 L358.85,353.06 L360.10,356.27 L361.35,360.36 L361.60,360.54 L362.60,357.18 L363.60,354.36 L364.60,352.14 L365.35,350.91 L365.85,350.32 L366.35,349.97 L366.60,349.90 L368.85,349.93 L369.35,350.44 L370.10,352.05 L370.85,354.46 L371.60,357.57 L373.10,365.64 L374.60,375.94 L374.85,375.56 L376.60,363.84 L378.10,356.25 L378.85,353.41 L379.35,351.92 L380.10,350.37 L380.60,349.91 L386.10,349.93 L388.10,350.19 L390.35,350.69 L392.85,350.16 L394.85,349.92 L402.35,349.93 L403.10,350.14 L403.85,350.49 L405.35,351.52 L406.85,352.94 L408.85,355.23 L410.60,353.10 L412.35,351.44 L413.85,350.44 L414.60,350.11 L415.35,349.92 L467.10,349.90 L467.35,350.20 L467.85,352.61 L468.60,359.37 L469.35,369.21 L470.35,386.50 L471.10,402.31 L472.10,426.89 L474.10,487.11 L474.35,492.19 L476.10,437.78 L477.85,394.64 L478.85,375.59 L479.60,364.26 L480.35,355.80 L480.85,351.98 L481.10,350.92 L481.35,350.78 L481.60,351.59 L482.35,355.74 L483.10,361.76 L484.10,372.33 L484.85,381.99 L485.85,397.00 L487.60,428.69 L487.85,427.69 L489.10,404.50 L490.10,388.45 L491.60,368.88 L492.35,361.31 L493.10,355.40 L493.85,351.39 L494.35,350.02 L494.60,349.90 L504.35,349.91 L504.60,350.08 L505.10,350.83 L505.60,352.03 L506.35,354.51 L507.10,357.73 L507.85,361.63 L509.35,371.25 L511.10,385.30 L512.85,371.25 L513.85,364.57 L514.60,360.26 L515.60,355.51 L516.35,352.77 L517.10,350.83 L517.60,350.08 L517.85,349.91 L665.60,349.90 L665.60,349.90 Z" fill="url(#gp)" stroke="none"/><path d="M24.60,349.90 L28.10,349.90 L28.35,350.04 L28.60,350.36 L29.10,351.41 L30.10,354.81 L31.10,359.68 L32.10,365.85 L33.10,373.20 L33.35,372.81 L34.60,363.87 L35.60,358.20 L36.60,354.31 L37.10,353.04 L37.60,352.28 L37.85,352.11 L38.10,352.10 L38.35,352.30 L40.10,354.80 L41.85,352.30 L43.35,350.77 L44.60,350.03 L45.10,349.91 L46.10,349.91 L47.35,350.24 L48.85,351.08 L50.35,352.29 L51.85,353.84 L54.35,351.52 L55.35,350.82 L56.35,350.28 L57.10,350.02 L57.85,349.90 L60.10,349.90 L60.35,350.05 L60.85,350.90 L61.35,352.27 L61.85,354.10 L62.60,357.61 L63.85,365.26 L65.10,374.94 L65.35,374.52 L66.60,364.91 L67.60,358.69 L68.60,353.90 L69.35,351.39 L69.85,350.32 L70.10,350.01 L70.35,349.90 L74.35,349.90 L74.60,350.00 L74.85,350.77 L75.10,352.08 L75.85,358.56 L76.35,364.70 L77.10,376.29 L78.35,401.34 L79.60,433.60 L80.85,403.99 L81.85,385.59 L82.85,372.24 L83.60,365.90 L84.10,360.38 L84.60,356.82 L85.60,354.14 L86.60,352.09 L87.35,350.93 L88.10,350.19 L88.60,350.00 L90.60,350.47 L92.60,351.25 L95.60,350.26 L95.85,350.40 L96.35,351.07 L96.85,352.19 L97.35,353.70 L98.35,357.78 L99.35,363.04 L100.60,371.10 L101.60,364.53 L102.35,360.28 L103.10,356.64 L103.85,353.68 L104.60,351.46 L105.35,350.12 L105.60,349.93 L105.85,349.90 L106.35,349.90 L106.60,350.00 L107.10,350.75 L107.60,352.04 L108.10,353.76 L108.85,357.09 L110.10,364.39 L111.35,373.66 L111.60,374.07 L113.10,363.08 L114.35,356.12 L115.10,353.02 L115.60,351.47 L115.85,350.86 L116.10,350.64 L116.35,350.92 L116.85,352.78 L117.35,355.68 L117.85,359.35 L118.60,366.17 L119.60,377.51 L121.10,398.88 L121.35,401.29 L122.85,379.42 L123.60,370.41 L124.35,362.80 L125.10,356.70 L125.60,353.56 L126.35,350.49 L126.60,350.00 L126.85,349.90 L141.10,349.92 L143.35,350.36 L145.85,351.28 L147.60,350.57 L148.10,350.54 L148.60,350.79 L149.10,351.26 L149.60,351.92 L150.35,353.25 L151.35,355.62 L152.60,359.34 L152.85,359.83 L154.35,355.36 L155.60,352.51 L156.35,351.23 L156.85,350.59 L157.35,350.13 L157.85,349.90 L174.85,349.90 L175.35,349.98 L176.10,350.33 L176.85,350.88 L178.35,352.48 L179.85,354.67 L181.60,357.89 L181.85,357.80 L183.35,355.15 L184.60,353.42 L185.35,352.75 L186.85,351.96 L187.60,351.87 L188.35,352.11 L189.60,353.12 L190.85,354.41 L191.10,354.50 L191.85,353.84 L192.60,353.34 L193.35,353.00 L194.35,352.78 L195.10,352.79 L195.85,352.95 L196.60,353.27 L197.35,353.76 L199.85,351.71 L200.60,351.34 L201.60,351.14 L202.35,351.19 L203.10,351.40 L204.35,352.18 L206.60,354.38 L209.10,357.50 L211.35,354.66 L213.60,352.39 L214.85,351.40 L215.85,350.76 L216.85,350.28 L217.35,350.22 L217.85,350.48 L218.60,351.36 L219.35,352.69 L220.10,354.35 L221.60,358.58 L223.10,363.90 L224.85,357.80 L226.35,353.76 L227.10,352.21 L227.85,351.00 L228.60,350.19 L229.10,349.92 L234.10,349.92 L234.60,350.09 L235.35,350.55 L236.60,351.77 L237.85,353.47 L239.10,355.60 L240.60,358.68 L240.85,358.57 L242.60,355.06 L244.35,352.33 L245.10,351.43 L245.85,350.71 L246.60,350.19 L247.10,349.97 L247.60,349.90 L253.85,349.90 L255.85,350.03 L259.60,350.67 L264.10,351.87 L267.10,350.98 L267.60,350.96 L268.35,351.29 L269.10,351.95 L269.85,352.89 L270.60,354.09 L272.10,357.20 L273.85,361.94 L274.10,362.09 L275.85,357.18 L277.60,353.37 L278.60,351.74 L279.35,350.80 L280.10,350.16 L280.60,349.97 L280.85,349.98 L281.85,350.22 L282.85,350.60 L285.10,351.83 L285.35,351.80 L286.60,351.12 L287.35,351.16 L288.10,351.56 L289.10,352.57 L290.35,354.58 L291.60,357.29 L292.85,360.49 L294.60,365.75 L294.85,366.24 L295.35,364.75 L295.60,364.25 L296.10,363.66 L296.35,363.54 L296.85,363.63 L297.10,363.83 L297.60,364.52 L298.10,365.59 L298.85,367.86 L300.10,373.37 L300.35,372.62 L301.60,363.16 L302.85,356.06 L303.35,354.00 L304.10,351.70 L304.85,350.26 L305.10,350.03 L305.35,349.98 L307.35,350.52 L309.60,351.58 L311.10,352.50 L312.85,353.78 L313.35,353.80 L313.60,353.93 L313.85,354.18 L314.35,355.02 L315.35,357.85 L316.35,362.03 L317.60,368.96 L318.85,377.65 L319.10,377.96 L320.10,370.15 L321.10,363.47 L321.85,359.44 L322.10,358.51 L322.60,357.24 L323.10,356.69 L323.35,356.68 L323.60,356.84 L324.10,357.71 L324.60,359.31 L325.60,364.79 L326.85,373.45 L327.10,373.83 L328.60,363.56 L329.85,356.90 L330.60,353.81 L331.10,352.18 L331.85,350.47 L332.35,349.92 L336.10,349.90 L337.10,349.99 L339.10,350.41 L341.10,351.10 L343.60,350.28 L345.85,349.91 L356.60,349.94 L357.10,350.28 L357.60,350.84 L358.10,351.60 L358.85,353.06 L360.10,356.27 L361.35,360.36 L361.60,360.54 L362.60,357.18 L363.60,354.36 L364.60,352.14 L365.35,350.91 L365.85,350.32 L366.35,349.97 L366.60,349.90 L368.85,349.93 L369.35,350.44 L370.10,352.05 L370.85,354.46 L371.60,357.57 L373.10,365.64 L374.60,375.94 L374.85,375.56 L376.60,363.84 L378.10,356.25 L378.85,353.41 L379.35,351.92 L380.10,350.37 L380.60,349.91 L386.10,349.93 L388.10,350.19 L390.35,350.69 L392.85,350.16 L394.85,349.92 L402.35,349.93 L403.10,350.14 L403.85,350.49 L405.35,351.52 L406.85,352.94 L408.85,355.23 L410.60,353.10 L412.35,351.44 L413.85,350.44 L414.60,350.11 L415.35,349.92 L467.10,349.90 L467.35,350.20 L467.85,352.61 L468.60,359.37 L469.35,369.21 L470.35,386.50 L471.10,402.31 L472.10,426.89 L474.10,487.11 L474.35,492.19 L476.10,437.78 L477.85,394.64 L478.85,375.59 L479.60,364.26 L480.35,355.80 L480.85,351.98 L481.10,350.92 L481.35,350.78 L481.60,351.59 L482.35,355.74 L483.10,361.76 L484.10,372.33 L484.85,381.99 L485.85,397.00 L487.60,428.69 L487.85,427.69 L489.10,404.50 L490.10,388.45 L491.60,368.88 L492.35,361.31 L493.10,355.40 L493.85,351.39 L494.35,350.02 L494.60,349.90 L504.35,349.91 L504.60,350.08 L505.10,350.83 L505.60,352.03 L506.35,354.51 L507.10,357.73 L507.85,361.63 L509.35,371.25 L511.10,385.30 L512.85,371.25 L513.85,364.57 L514.60,360.26 L515.60,355.51 L516.35,352.77 L517.10,350.83 L517.60,350.08 L517.85,349.91 L665.60,349.90" fill="none" stroke="#000" stroke-width="1.15" stroke-linejoin="round"/><line x1="24.30" y1="349.90" x2="666.4" y2="349.90" stroke="#999" stroke-width="1.5"/><path d="M24.60,513.30 L24.60,513.30 L36.85,513.30 L37.35,513.46 L37.85,513.77 L38.60,514.47 L39.85,516.16 L40.85,517.93 L41.85,520.73 L42.10,520.70 L42.85,520.29 L43.35,520.32 L43.85,520.57 L44.35,521.06 L44.85,521.77 L45.85,523.87 L47.10,519.76 L48.35,516.65 L49.60,514.43 L50.10,513.83 L50.60,513.43 L51.10,513.30 L62.60,513.30 L62.85,513.44 L63.10,513.76 L63.60,514.79 L64.10,516.26 L64.85,519.20 L66.10,525.80 L67.60,536.22 L67.85,535.83 L68.60,530.46 L69.10,527.67 L69.60,525.49 L70.35,523.28 L70.85,522.51 L71.10,522.34 L71.35,522.31 L71.60,522.43 L71.85,522.71 L72.35,523.75 L72.60,524.54 L73.35,527.95 L73.60,527.22 L74.85,521.74 L75.85,518.20 L76.85,515.49 L77.35,514.50 L77.85,513.85 L78.35,513.57 L79.60,514.06 L80.85,514.85 L82.10,516.35 L82.35,516.48 L83.10,516.50 L83.85,516.73 L84.85,517.37 L85.60,518.08 L85.85,518.07 L86.10,518.19 L86.60,519.40 L87.35,523.21 L88.10,529.07 L88.85,536.70 L90.10,553.08 L91.60,578.42 L91.85,581.25 L93.35,555.24 L94.85,534.62 L95.60,526.55 L96.35,520.12 L97.10,515.56 L97.60,513.76 L97.85,513.33 L98.10,513.30 L103.85,513.35 L104.10,513.75 L104.60,515.36 L105.10,517.81 L105.85,522.87 L107.10,534.47 L108.35,549.59 L109.60,567.90 L109.85,567.11 L111.35,545.66 L112.60,531.35 L113.60,522.48 L114.60,516.24 L115.10,514.28 L115.35,513.65 L115.60,513.32 L120.35,513.30 L120.60,513.46 L120.85,514.09 L121.35,516.35 L122.10,521.79 L122.85,529.30 L123.60,538.65 L125.10,562.37 L126.85,597.68 L127.10,594.35 L128.85,559.72 L130.35,536.64 L131.10,527.64 L131.85,520.52 L132.60,515.55 L133.10,513.66 L133.35,513.30 L135.60,513.32 L136.10,513.47 L136.85,513.88 L137.60,514.47 L138.35,515.23 L139.35,516.47 L140.35,517.96 L140.60,518.04 L142.10,515.88 L143.60,514.30 L144.35,513.75 L145.10,513.39 L145.60,513.30 L146.10,513.51 L146.60,514.00 L147.10,514.69 L148.35,517.18 L149.35,519.88 L150.60,524.03 L150.85,523.85 L152.10,519.73 L153.35,516.49 L154.10,515.01 L154.60,514.25 L155.10,513.68 L155.60,513.35 L171.10,513.30 L171.60,513.58 L172.10,514.20 L172.60,515.10 L173.35,516.88 L174.60,520.89 L176.10,527.22 L176.35,526.99 L177.85,520.71 L178.60,518.18 L179.35,516.11 L180.10,514.53 L180.60,513.79 L181.10,513.36 L181.60,513.30 L181.85,513.45 L182.35,514.88 L183.10,518.97 L183.85,524.96 L184.60,532.62 L185.85,548.71 L187.60,577.54 L187.85,580.38 L188.85,563.83 L189.85,550.61 L190.85,540.68 L191.60,535.47 L192.10,533.12 L192.60,531.71 L192.85,531.38 L193.10,531.32 L193.35,531.55 L193.85,532.48 L195.60,524.04 L197.10,518.50 L197.85,516.37 L198.60,514.73 L199.35,513.64 L199.85,513.31 L207.85,513.30 L208.10,513.37 L208.60,513.76 L209.60,515.26 L210.85,518.22 L211.85,521.33 L213.10,526.06 L213.35,526.69 L214.85,520.99 L216.10,517.28 L217.35,514.64 L218.10,513.66 L218.60,513.33 L226.10,513.30 L226.85,513.41 L227.85,513.89 L229.10,514.89 L230.35,516.26 L231.60,517.95 L231.85,517.88 L233.10,516.19 L234.10,515.08 L235.10,514.21 L235.85,513.72 L236.60,513.39 L237.10,513.30 L239.85,513.31 L240.35,513.79 L240.85,514.76 L241.35,516.13 L242.10,518.83 L243.35,524.86 L244.85,534.34 L245.10,533.29 L246.35,525.42 L247.35,520.33 L248.35,516.61 L248.85,515.35 L249.35,514.53 L249.60,514.30 L249.85,514.22 L250.10,514.32 L251.10,515.04 L252.35,516.15 L252.60,516.20 L253.85,515.08 L254.85,514.35 L255.85,513.79 L256.85,513.42 L257.60,513.30 L263.10,513.30 L263.35,513.39 L263.85,513.91 L264.60,515.28 L265.35,517.25 L266.35,520.68 L267.10,523.81 L268.10,528.66 L269.85,538.88 L270.10,537.92 L271.10,531.92 L272.10,526.63 L273.60,520.11 L274.35,517.55 L275.10,515.51 L275.85,514.06 L276.35,513.47 L276.60,513.32 L281.35,513.30 L282.10,513.41 L283.10,513.73 L284.10,514.20 L285.10,514.82 L286.35,515.76 L288.35,514.40 L290.10,513.58 L290.85,513.38 L291.60,513.30 L292.85,513.30 L293.35,513.51 L294.10,514.43 L294.85,515.88 L295.60,517.79 L296.35,520.12 L297.85,525.89 L299.60,534.36 L299.85,534.10 L300.60,530.35 L301.60,526.38 L302.35,524.10 L303.10,522.39 L303.60,521.57 L304.10,521.01 L304.60,520.73 L305.10,520.72 L305.35,520.62 L306.35,517.64 L307.10,516.34 L308.10,514.94 L309.35,513.73 L309.85,513.44 L310.35,513.30 L311.60,513.30 L312.10,513.39 L313.35,514.10 L314.85,515.58 L316.60,518.04 L316.85,517.96 L318.10,516.14 L319.35,514.71 L320.60,513.72 L321.60,513.32 L327.35,513.30 L328.10,513.46 L329.10,514.01 L330.10,514.86 L331.10,515.97 L332.35,517.67 L332.60,517.75 L333.85,516.03 L335.10,514.67 L336.35,513.72 L337.35,513.33 L368.60,513.34 L369.10,513.80 L369.85,515.19 L370.35,516.48 L371.10,518.92 L372.35,524.16 L373.85,532.20 L374.10,531.32 L375.60,523.45 L376.85,518.39 L377.60,516.07 L378.10,514.85 L378.85,513.62 L379.35,513.30 L380.10,513.33 L380.60,513.45 L381.85,514.04 L383.35,515.19 L384.85,516.74 L386.35,515.28 L387.35,514.45 L388.60,513.69 L389.60,513.35 L400.10,513.30 L400.60,513.38 L401.10,513.59 L401.85,514.08 L403.10,515.30 L404.60,517.33 L406.10,519.90 L407.60,517.33 L409.10,515.30 L409.85,514.52 L410.60,513.90 L411.35,513.47 L411.85,513.32 L442.85,513.30 L443.10,513.60 L443.60,515.52 L444.10,518.74 L444.60,523.05 L445.60,534.56 L446.60,549.50 L447.60,567.56 L448.60,588.52 L450.60,638.53 L450.85,637.15 L452.10,604.83 L453.35,576.64 L454.35,557.25 L455.10,544.68 L456.10,530.73 L456.85,522.58 L457.35,518.37 L457.85,515.26 L458.35,513.49 L458.60,513.30 L483.60,513.31 L486.35,513.52 L490.10,514.08 L492.85,513.62 L495.60,513.34 L502.35,513.30 L505.35,513.57 L509.10,514.28 L512.60,513.58 L515.85,513.30 L665.60,513.30 L665.60,513.30 Z" fill="url(#gg)" stroke="none"/><path d="M24.60,513.30 L36.85,513.30 L37.35,513.46 L37.85,513.77 L38.60,514.47 L39.85,516.16 L40.85,517.93 L41.85,520.73 L42.10,520.70 L42.85,520.29 L43.35,520.32 L43.85,520.57 L44.35,521.06 L44.85,521.77 L45.85,523.87 L47.10,519.76 L48.35,516.65 L49.60,514.43 L50.10,513.83 L50.60,513.43 L51.10,513.30 L62.60,513.30 L62.85,513.44 L63.10,513.76 L63.60,514.79 L64.10,516.26 L64.85,519.20 L66.10,525.80 L67.60,536.22 L67.85,535.83 L68.60,530.46 L69.10,527.67 L69.60,525.49 L70.35,523.28 L70.85,522.51 L71.10,522.34 L71.35,522.31 L71.60,522.43 L71.85,522.71 L72.35,523.75 L72.60,524.54 L73.35,527.95 L73.60,527.22 L74.85,521.74 L75.85,518.20 L76.85,515.49 L77.35,514.50 L77.85,513.85 L78.35,513.57 L79.60,514.06 L80.85,514.85 L82.10,516.35 L82.35,516.48 L83.10,516.50 L83.85,516.73 L84.85,517.37 L85.60,518.08 L85.85,518.07 L86.10,518.19 L86.60,519.40 L87.35,523.21 L88.10,529.07 L88.85,536.70 L90.10,553.08 L91.60,578.42 L91.85,581.25 L93.35,555.24 L94.85,534.62 L95.60,526.55 L96.35,520.12 L97.10,515.56 L97.60,513.76 L97.85,513.33 L98.10,513.30 L103.85,513.35 L104.10,513.75 L104.60,515.36 L105.10,517.81 L105.85,522.87 L107.10,534.47 L108.35,549.59 L109.60,567.90 L109.85,567.11 L111.35,545.66 L112.60,531.35 L113.60,522.48 L114.60,516.24 L115.10,514.28 L115.35,513.65 L115.60,513.32 L120.35,513.30 L120.60,513.46 L120.85,514.09 L121.35,516.35 L122.10,521.79 L122.85,529.30 L123.60,538.65 L125.10,562.37 L126.85,597.68 L127.10,594.35 L128.85,559.72 L130.35,536.64 L131.10,527.64 L131.85,520.52 L132.60,515.55 L133.10,513.66 L133.35,513.30 L135.60,513.32 L136.10,513.47 L136.85,513.88 L137.60,514.47 L138.35,515.23 L139.35,516.47 L140.35,517.96 L140.60,518.04 L142.10,515.88 L143.60,514.30 L144.35,513.75 L145.10,513.39 L145.60,513.30 L146.10,513.51 L146.60,514.00 L147.10,514.69 L148.35,517.18 L149.35,519.88 L150.60,524.03 L150.85,523.85 L152.10,519.73 L153.35,516.49 L154.10,515.01 L154.60,514.25 L155.10,513.68 L155.60,513.35 L171.10,513.30 L171.60,513.58 L172.10,514.20 L172.60,515.10 L173.35,516.88 L174.60,520.89 L176.10,527.22 L176.35,526.99 L177.85,520.71 L178.60,518.18 L179.35,516.11 L180.10,514.53 L180.60,513.79 L181.10,513.36 L181.60,513.30 L181.85,513.45 L182.35,514.88 L183.10,518.97 L183.85,524.96 L184.60,532.62 L185.85,548.71 L187.60,577.54 L187.85,580.38 L188.85,563.83 L189.85,550.61 L190.85,540.68 L191.60,535.47 L192.10,533.12 L192.60,531.71 L192.85,531.38 L193.10,531.32 L193.35,531.55 L193.85,532.48 L195.60,524.04 L197.10,518.50 L197.85,516.37 L198.60,514.73 L199.35,513.64 L199.85,513.31 L207.85,513.30 L208.10,513.37 L208.60,513.76 L209.60,515.26 L210.85,518.22 L211.85,521.33 L213.10,526.06 L213.35,526.69 L214.85,520.99 L216.10,517.28 L217.35,514.64 L218.10,513.66 L218.60,513.33 L226.10,513.30 L226.85,513.41 L227.85,513.89 L229.10,514.89 L230.35,516.26 L231.60,517.95 L231.85,517.88 L233.10,516.19 L234.10,515.08 L235.10,514.21 L235.85,513.72 L236.60,513.39 L237.10,513.30 L239.85,513.31 L240.35,513.79 L240.85,514.76 L241.35,516.13 L242.10,518.83 L243.35,524.86 L244.85,534.34 L245.10,533.29 L246.35,525.42 L247.35,520.33 L248.35,516.61 L248.85,515.35 L249.35,514.53 L249.60,514.30 L249.85,514.22 L250.10,514.32 L251.10,515.04 L252.35,516.15 L252.60,516.20 L253.85,515.08 L254.85,514.35 L255.85,513.79 L256.85,513.42 L257.60,513.30 L263.10,513.30 L263.35,513.39 L263.85,513.91 L264.60,515.28 L265.35,517.25 L266.35,520.68 L267.10,523.81 L268.10,528.66 L269.85,538.88 L270.10,537.92 L271.10,531.92 L272.10,526.63 L273.60,520.11 L274.35,517.55 L275.10,515.51 L275.85,514.06 L276.35,513.47 L276.60,513.32 L281.35,513.30 L282.10,513.41 L283.10,513.73 L284.10,514.20 L285.10,514.82 L286.35,515.76 L288.35,514.40 L290.10,513.58 L290.85,513.38 L291.60,513.30 L292.85,513.30 L293.35,513.51 L294.10,514.43 L294.85,515.88 L295.60,517.79 L296.35,520.12 L297.85,525.89 L299.60,534.36 L299.85,534.10 L300.60,530.35 L301.60,526.38 L302.35,524.10 L303.10,522.39 L303.60,521.57 L304.10,521.01 L304.60,520.73 L305.10,520.72 L305.35,520.62 L306.35,517.64 L307.10,516.34 L308.10,514.94 L309.35,513.73 L309.85,513.44 L310.35,513.30 L311.60,513.30 L312.10,513.39 L313.35,514.10 L314.85,515.58 L316.60,518.04 L316.85,517.96 L318.10,516.14 L319.35,514.71 L320.60,513.72 L321.60,513.32 L327.35,513.30 L328.10,513.46 L329.10,514.01 L330.10,514.86 L331.10,515.97 L332.35,517.67 L332.60,517.75 L333.85,516.03 L335.10,514.67 L336.35,513.72 L337.35,513.33 L368.60,513.34 L369.10,513.80 L369.85,515.19 L370.35,516.48 L371.10,518.92 L372.35,524.16 L373.85,532.20 L374.10,531.32 L375.60,523.45 L376.85,518.39 L377.60,516.07 L378.10,514.85 L378.85,513.62 L379.35,513.30 L380.10,513.33 L380.60,513.45 L381.85,514.04 L383.35,515.19 L384.85,516.74 L386.35,515.28 L387.35,514.45 L388.60,513.69 L389.60,513.35 L400.10,513.30 L400.60,513.38 L401.10,513.59 L401.85,514.08 L403.10,515.30 L404.60,517.33 L406.10,519.90 L407.60,517.33 L409.10,515.30 L409.85,514.52 L410.60,513.90 L411.35,513.47 L411.85,513.32 L442.85,513.30 L443.10,513.60 L443.60,515.52 L444.10,518.74 L444.60,523.05 L445.60,534.56 L446.60,549.50 L447.60,567.56 L448.60,588.52 L450.60,638.53 L450.85,637.15 L452.10,604.83 L453.35,576.64 L454.35,557.25 L455.10,544.68 L456.10,530.73 L456.85,522.58 L457.35,518.37 L457.85,515.26 L458.35,513.49 L458.60,513.30 L483.60,513.31 L486.35,513.52 L490.10,514.08 L492.85,513.62 L495.60,513.34 L502.35,513.30 L505.35,513.57 L509.10,514.28 L512.60,513.58 L515.85,513.30 L665.60,513.30" fill="none" stroke="#111" stroke-width="1.1" stroke-linejoin="round"/><line x1="24.30" y1="513.30" x2="666.4" y2="513.30" stroke="#111" stroke-width="1.1"/><path d="M24.9,676.5 V667.8 H665.4 V676.5" fill="none" stroke="#6f6f6f" stroke-width="1.5"/><line x1="104.96" y1="667.8" x2="104.96" y2="676.5" stroke="#6f6f6f" stroke-width="1.5"/><line x1="185.02" y1="667.8" x2="185.02" y2="676.5" stroke="#6f6f6f" stroke-width="1.5"/><line x1="265.08" y1="667.8" x2="265.08" y2="676.5" stroke="#6f6f6f" stroke-width="1.5"/><line x1="345.14" y1="667.8" x2="345.14" y2="676.5" stroke="#6f6f6f" stroke-width="1.5"/><line x1="425.20" y1="667.8" x2="425.20" y2="676.5" stroke="#6f6f6f" stroke-width="1.5"/><line x1="505.26" y1="667.8" x2="505.26" y2="676.5" stroke="#6f6f6f" stroke-width="1.5"/><line x1="585.32" y1="667.8" x2="585.32" y2="676.5" stroke="#6f6f6f" stroke-width="1.5"/><text x="3.43" y="697.85" font-size="15.40" textLength="41.62" lengthAdjust="spacingAndGlyphs" fill="#222" stroke="#222" stroke-width="0.25">1,000</text><text x="85.77" y="697.85" font-size="15.40" textLength="37.00" lengthAdjust="spacingAndGlyphs" fill="#222" stroke="#222" stroke-width="0.25">1,100</text><text x="164.48" y="697.85" font-size="15.40" textLength="40.15" lengthAdjust="spacingAndGlyphs" fill="#222" stroke="#222" stroke-width="0.25">1,200</text><text x="244.57" y="697.85" font-size="15.40" textLength="40.36" lengthAdjust="spacingAndGlyphs" fill="#222" stroke="#222" stroke-width="0.25">1,300</text><text x="323.45" y="697.85" font-size="15.40" textLength="41.20" lengthAdjust="spacingAndGlyphs" fill="#222" stroke="#222" stroke-width="0.25">1,400</text><text x="404.57" y="697.85" font-size="15.40" textLength="40.36" lengthAdjust="spacingAndGlyphs" fill="#222" stroke="#222" stroke-width="0.25">1,500</text><text x="484.05" y="697.85" font-size="15.40" textLength="41.20" lengthAdjust="spacingAndGlyphs" fill="#222" stroke="#222" stroke-width="0.25">1,600</text><text x="565.74" y="697.85" font-size="15.40" textLength="38.26" lengthAdjust="spacingAndGlyphs" fill="#222" stroke="#222" stroke-width="0.25">1,700</text><text x="644.66" y="697.85" font-size="15.40" textLength="40.67" lengthAdjust="spacingAndGlyphs" fill="#222" stroke="#222" stroke-width="0.25">1,800</text><text x="264.12" y="735.20" font-size="17.73" textLength="145.09" lengthAdjust="spacingAndGlyphs" fill="#222" stroke="#222" stroke-width="0.25">Wavenumber (cm</text><rect x="409.8" y="723.8" width="5.3" height="1.25" fill="#222"/><text x="415.41" y="727.90" font-size="12.79" textLength="5.03" lengthAdjust="spacingAndGlyphs" fill="#222" stroke="#222" stroke-width="0.25">1</text><text x="421.02" y="734.23" font-size="16.74" textLength="4.77" lengthAdjust="spacingAndGlyphs" fill="#222" stroke="#222" stroke-width="0.25">)</text><text x="-0.14" y="21.35" font-size="25.55" textLength="13.98" lengthAdjust="spacingAndGlyphs" font-weight="bold" fill="#000">a</text><text x="-0.95" y="187.65" font-size="25.87" textLength="18.06" lengthAdjust="spacingAndGlyphs" font-weight="bold" fill="#000">b</text><text x="-0.37" y="371.65" font-size="25.19" textLength="15.16" lengthAdjust="spacingAndGlyphs" font-weight="bold" fill="#000">c</text><text x="-0.58" y="540.75" font-size="25.46" textLength="17.58" lengthAdjust="spacingAndGlyphs" font-weight="bold" fill="#000">d</text><rect x="576" y="8" width="96" height="19.2" fill="#fff"/><text x="576.38" y="26.00" font-size="18.75" textLength="93.55" lengthAdjust="spacingAndGlyphs" fill="#222" stroke="#222" stroke-width="0.25">Experiment</text><text x="635.06" y="187.60" font-size="18.31" textLength="31.82" lengthAdjust="spacingAndGlyphs" fill="#222" stroke="#222" stroke-width="0.25">DFT</text><text x="588.46" y="345.52" font-size="18.22" textLength="11.98" lengthAdjust="spacingAndGlyphs" fill="#222" stroke="#222" stroke-width="0.25">0</text><text x="603.87" y="345.50" font-size="18.77" textLength="52.86" lengthAdjust="spacingAndGlyphs" fill="#222" stroke="#222" stroke-width="0.25">kJ mol</text><rect x="656.6" y="334.18" width="5.3" height="1.25" fill="#222"/><text x="661.30" y="337.80" font-size="12.50" textLength="4.39" lengthAdjust="spacingAndGlyphs" fill="#222" stroke="#222" stroke-width="0.25">1</text><text x="570.56" y="509.82" font-size="18.08" textLength="29.19" lengthAdjust="spacingAndGlyphs" fill="#222" stroke="#222" stroke-width="0.25">+28</text><text x="603.87" y="509.90" font-size="18.77" textLength="52.86" lengthAdjust="spacingAndGlyphs" fill="#222" stroke="#222" stroke-width="0.25">kJ mol</text><rect x="656.6" y="498.58" width="5.3" height="1.25" fill="#222"/><text x="661.30" y="502.20" font-size="12.50" textLength="4.39" lengthAdjust="spacingAndGlyphs" fill="#222" stroke="#222" stroke-width="0.25">1</text><text x="571.17" y="658.12" font-size="17.94" textLength="28.67" lengthAdjust="spacingAndGlyphs" fill="#222" stroke="#222" stroke-width="0.25">+73</text><text x="603.87" y="658.20" font-size="18.77" textLength="52.86" lengthAdjust="spacingAndGlyphs" fill="#222" stroke="#222" stroke-width="0.25">kJ mol</text><rect x="656.6" y="646.88" width="5.3" height="1.25" fill="#222"/><text x="661.30" y="650.50" font-size="12.50" textLength="4.39" lengthAdjust="spacingAndGlyphs" fill="#222" stroke="#222" stroke-width="0.25">1</text><text x="373.65" y="206.82" font-size="18.38" textLength="11.32" lengthAdjust="spacingAndGlyphs" fill="#3b84c0" stroke="#3b84c0" stroke-width="0.25">δ</text><text x="384.33" y="211.90" font-size="12.79" textLength="14.43" lengthAdjust="spacingAndGlyphs" fill="#3b84c0" stroke="#3b84c0" stroke-width="0.25">Ph</text><text x="398.10" y="206.90" font-size="17.88" textLength="47.09" lengthAdjust="spacingAndGlyphs" fill="#3b84c0" stroke="#3b84c0" stroke-width="0.25">(C–H)</text><text x="341.14" y="239.72" font-size="18.25" textLength="11.44" lengthAdjust="spacingAndGlyphs" fill="#3b84c0" stroke="#3b84c0" stroke-width="0.25">δ</text><text x="351.79" y="245.40" font-size="13.08" textLength="33.70" lengthAdjust="spacingAndGlyphs" fill="#3b84c0" stroke="#3b84c0" stroke-width="0.25">CHO+</text><text x="385.22" y="240.00" font-size="17.88" textLength="46.25" lengthAdjust="spacingAndGlyphs" fill="#3b84c0" stroke="#3b84c0" stroke-width="0.25">(C–H)</text><text x="516.35" y="218.10" font-size="17.79" textLength="8.72" lengthAdjust="spacingAndGlyphs" font-style="italic" fill="#3b84c0" stroke="#3b84c0" stroke-width="0.25">v</text><text x="525.32" y="223.00" font-size="13.08" textLength="14.55" lengthAdjust="spacingAndGlyphs" fill="#3b84c0" stroke="#3b84c0" stroke-width="0.25">Ph</text><text x="539.75" y="217.92" font-size="18.22" textLength="45.49" lengthAdjust="spacingAndGlyphs" fill="#3b84c0" stroke="#3b84c0" stroke-width="0.25">(C=C)</text><text x="479.89" y="243.90" font-size="17.41" textLength="8.31" lengthAdjust="spacingAndGlyphs" font-style="italic" fill="#3b84c0" stroke="#3b84c0" stroke-width="0.25">v</text><text x="488.69" y="248.80" font-size="12.79" textLength="13.64" lengthAdjust="spacingAndGlyphs" fill="#3b84c0" stroke="#3b84c0" stroke-width="0.25">Ph</text><text x="503.07" y="244.32" font-size="18.22" textLength="44.87" lengthAdjust="spacingAndGlyphs" fill="#3b84c0" stroke="#3b84c0" stroke-width="0.25">(C=C)</text><text x="437.59" y="318.60" font-size="18.36" textLength="8.31" lengthAdjust="spacingAndGlyphs" font-style="italic" fill="#3b84c0" stroke="#3b84c0" stroke-width="0.25">v</text><text x="446.64" y="318.72" font-size="18.64" textLength="41.28" lengthAdjust="spacingAndGlyphs" fill="#3b84c0" stroke="#3b84c0" stroke-width="0.25">(C=O</text><text x="487.63" y="310.39" font-size="11.24" textLength="6.85" lengthAdjust="spacingAndGlyphs" fill="#3b84c0" stroke="#3b84c0" stroke-width="0.25">+</text><text x="494.92" y="317.29" font-size="16.96" textLength="4.65" lengthAdjust="spacingAndGlyphs" fill="#3b84c0" stroke="#3b84c0" stroke-width="0.25">)</text><g><path d="M270.4,206.2 L327.6,206.2 L327.6,235.3 L307.4,241.0 L291,241.0 L270.6,235.3 Z" fill="#0380bf"/><ellipse cx="327.2" cy="206.6" rx="5.9" ry="6.4" fill="#fff"/><ellipse cx="299.3" cy="244.0" rx="5.0" ry="5.6" fill="#fff"/><path d="M270.3,205.5 H318.6 M270.5,204.6 V236 M327.3,215.5 V235.6 M270.6,235.3 L280,238.2 M287.8,240.2 L292.3,241.2 M306.3,241.0 L327.3,235.3" stroke="#000" stroke-width="1.9" fill="none"/><text x="278.15" y="229.70" font-size="16.28" textLength="31.68" lengthAdjust="spacingAndGlyphs" fill="#000" stroke="#000" stroke-width="0.25">OBn</text><text x="293.15" y="249.74" font-size="16.67" textLength="12.31" lengthAdjust="spacingAndGlyphs" fill="#000" stroke="#000" stroke-width="0.25">O</text><text x="320.71" y="212.63" font-size="17.51" textLength="12.99" lengthAdjust="spacingAndGlyphs" fill="#000" stroke="#000" stroke-width="0.25">O</text><path d="M283.9,233.2 V252.3 M256.2,260.2 L270.8,236.6 M312.4,261 V281.4 M256.2,260 V280.7" stroke="#000" stroke-width="1.9" fill="none"/><path d="M256.2,260.2 L284,249.0 L284.4,255.6 Z" fill="#000"/><path d="M283.6,249.0 L312.2,257.6 L311.8,263.6 L283.8,255.6 Z" fill="#000"/><path d="M307.6,259.3 L315.6,262.4 L326.6,235.8 Z" fill="#000"/><text x="305.41" y="296.60" font-size="17.01" textLength="33.27" lengthAdjust="spacingAndGlyphs" fill="#000" stroke="#000" stroke-width="0.25">OBn</text><text x="249.40" y="296.43" font-size="17.37" textLength="13.22" lengthAdjust="spacingAndGlyphs" fill="#0d86c8" stroke="#0d86c8" stroke-width="0.25">O</text><text x="263.77" y="287.56" font-size="16.56" textLength="9.98" lengthAdjust="spacingAndGlyphs" fill="#0d86c8" stroke="#0d86c8" stroke-width="0.25">+</text><path d="M235.3,310.2 L249.1,297.2 M233.9,303.9 L245.2,293.4 M235.3,310.2 L217.9,301 M235.3,309.5 V331.6" stroke="#0d86c8" stroke-width="1.9" fill="none"/><text x="194.68" y="302.00" font-size="16.28" textLength="19.66" lengthAdjust="spacingAndGlyphs" fill="#0d86c8" stroke="#0d86c8" stroke-width="0.25">Ph</text><text x="229.42" y="346.10" font-size="16.42" textLength="12.15" lengthAdjust="spacingAndGlyphs" fill="#0d86c8" stroke="#0d86c8" stroke-width="0.25">H</text><text x="260.43" y="345.00" font-size="16.72" textLength="52.71" lengthAdjust="spacingAndGlyphs" font-weight="bold" fill="#000">Glc-6B</text><text x="210.80" y="215.40" font-size="12.21" textLength="7.17" lengthAdjust="spacingAndGlyphs" fill="#111" stroke="#111" stroke-width="0.25">4</text><text x="217.56" y="222.03" font-size="17.80" textLength="11.97" lengthAdjust="spacingAndGlyphs" fill="#111" stroke="#111" stroke-width="0.25">C</text><text x="229.38" y="225.70" font-size="12.35" textLength="5.29" lengthAdjust="spacingAndGlyphs" fill="#111" stroke="#111" stroke-width="0.25">1</text><path d="M238.8,451.1 L255.9,437.4 L286.9,437.4 L306.7,451.1 L280.5,468.4 L272.7,476 L265.5,468.4 Z" fill="#fd8080"/><ellipse cx="272.65" cy="473.8" rx="5.3" ry="5.8" fill="#fff"/><text x="213.10" y="375.18" font-size="15.74" textLength="9.62" lengthAdjust="spacingAndGlyphs" fill="#000" stroke="#000" stroke-width="0.25">+</text><text x="208.52" y="390.53" font-size="17.66" textLength="12.88" lengthAdjust="spacingAndGlyphs" fill="#000" stroke="#000" stroke-width="0.25">O</text><path d="M189,398.8 L206.5,389.1 M194.9,401.7 L209.5,393.3 M189.2,397.9 V419.6" stroke="#000" stroke-width="1.9" fill="none"/><text x="183.95" y="434.10" font-size="16.28" textLength="20.12" lengthAdjust="spacingAndGlyphs" fill="#000" stroke="#000" stroke-width="0.25">Ph</text><path d="M224,386.5 L243.3,391.8 L249.7,419.4 L238.8,451.1" stroke="#000" stroke-width="1.9" fill="none" stroke-linejoin="round"/><path d="M249.7,419.9 H252.4 M260.6,420.3 H289 M255.9,413.5 V437.4 M300.3,430.4 L302.1,433.9 M303.8,440.9 L306.2,450.3 M288.1,437.8 H309.6" stroke="#000" stroke-width="1.9" fill="none"/><text x="250.14" y="409.80" font-size="16.57" textLength="32.31" lengthAdjust="spacingAndGlyphs" fill="#000" stroke="#000" stroke-width="0.25">OBn</text><text x="291.30" y="426.53" font-size="17.23" textLength="13.22" lengthAdjust="spacingAndGlyphs" fill="#000" stroke="#000" stroke-width="0.25">O</text><text x="311.14" y="443.90" font-size="15.99" textLength="32.10" lengthAdjust="spacingAndGlyphs" fill="#000" stroke="#000" stroke-width="0.25">OBn</text><path d="M238.8,451.1 L254.0,435.4 L257.8,440.0 Z M255.5,435.8 H287.3 V439.3 H255.5 Z M288.6,434.9 L285.2,439.9 L306.9,451.3 Z" fill="#000"/><path d="M238.8,451.1 L265.5,468.4 M280.3,468.3 L306.7,451.1" stroke="#000" stroke-width="1.9" fill="none"/><text x="266.33" y="479.63" font-size="16.95" textLength="12.65" lengthAdjust="spacingAndGlyphs" fill="#000" stroke="#000" stroke-width="0.25">O</text><text x="181.17" y="472.50" font-size="17.01" textLength="11.65" lengthAdjust="spacingAndGlyphs" fill="#111" stroke="#111" stroke-width="0.25">B</text><text x="192.76" y="476.30" font-size="12.65" textLength="15.26" lengthAdjust="spacingAndGlyphs" fill="#111" stroke="#111" stroke-width="0.25">1,4</text><text x="248.85" y="499.10" font-size="16.57" textLength="51.38" lengthAdjust="spacingAndGlyphs" font-weight="bold" fill="#000">Glc-4B</text><text x="194.94" y="568.10" font-size="16.28" textLength="20.23" lengthAdjust="spacingAndGlyphs" fill="#000" stroke="#000" stroke-width="0.25">Ph</text><path d="M216.3,560.4 L238.9,554.6 L258.1,560.0 M238.9,554.6 L248.9,572.3 M261.7,577.9 L281.4,572.7 L309.1,579.7 L329.0,575.0 M275.8,559.6 L295.1,554.9 L309.1,579.7 M340.1,581.5 L353.2,598.3 M338.6,585.9 L345.2,593.2 M273.5,597.8 H296.3 M324.7,604.9 L333.9,622.4" stroke="#000" stroke-width="1.9" fill="none" stroke-linejoin="round"/><text x="260.44" y="568.53" font-size="17.37" textLength="12.53" lengthAdjust="spacingAndGlyphs" fill="#000" stroke="#000" stroke-width="0.25">O</text><text x="246.82" y="586.73" font-size="17.37" textLength="12.88" lengthAdjust="spacingAndGlyphs" fill="#000" stroke="#000" stroke-width="0.25">O</text><text x="331.51" y="578.73" font-size="17.66" textLength="12.99" lengthAdjust="spacingAndGlyphs" fill="#000" stroke="#000" stroke-width="0.25">O</text><text x="343.77" y="568.48" font-size="17.99" textLength="9.98" lengthAdjust="spacingAndGlyphs" fill="#000" stroke="#000" stroke-width="0.25">+</text><path d="M281.4,572.7 L293.6,600.3 L299.2,596.2 Z M296.0,595.4 L324.7,601.6 L324.7,608.0 L296.4,601.2 Z M324.0,601.6 L353.2,598.3 L324.0,608.0 Z" fill="#000"/><text x="239.08" y="603.70" font-size="16.28" textLength="32.30" lengthAdjust="spacingAndGlyphs" fill="#000" stroke="#000" stroke-width="0.25">BnO</text><text x="333.64" y="636.80" font-size="16.42" textLength="32.31" lengthAdjust="spacingAndGlyphs" fill="#000" stroke="#000" stroke-width="0.25">OBn</text><text x="197.23" y="614.60" font-size="11.19" textLength="4.90" lengthAdjust="spacingAndGlyphs" fill="#111" stroke="#111" stroke-width="0.25">1</text><text x="203.23" y="621.33" font-size="17.51" textLength="11.24" lengthAdjust="spacingAndGlyphs" fill="#111" stroke="#111" stroke-width="0.25">S</text><text x="214.30" y="625.38" font-size="11.90" textLength="6.92" lengthAdjust="spacingAndGlyphs" fill="#111" stroke="#111" stroke-width="0.25">5</text><text x="272.43" y="657.25" font-size="15.68" textLength="60.40" lengthAdjust="spacingAndGlyphs" font-weight="bold" fill="#000">Glc-oxo</text></g></svg>
</body></html>
